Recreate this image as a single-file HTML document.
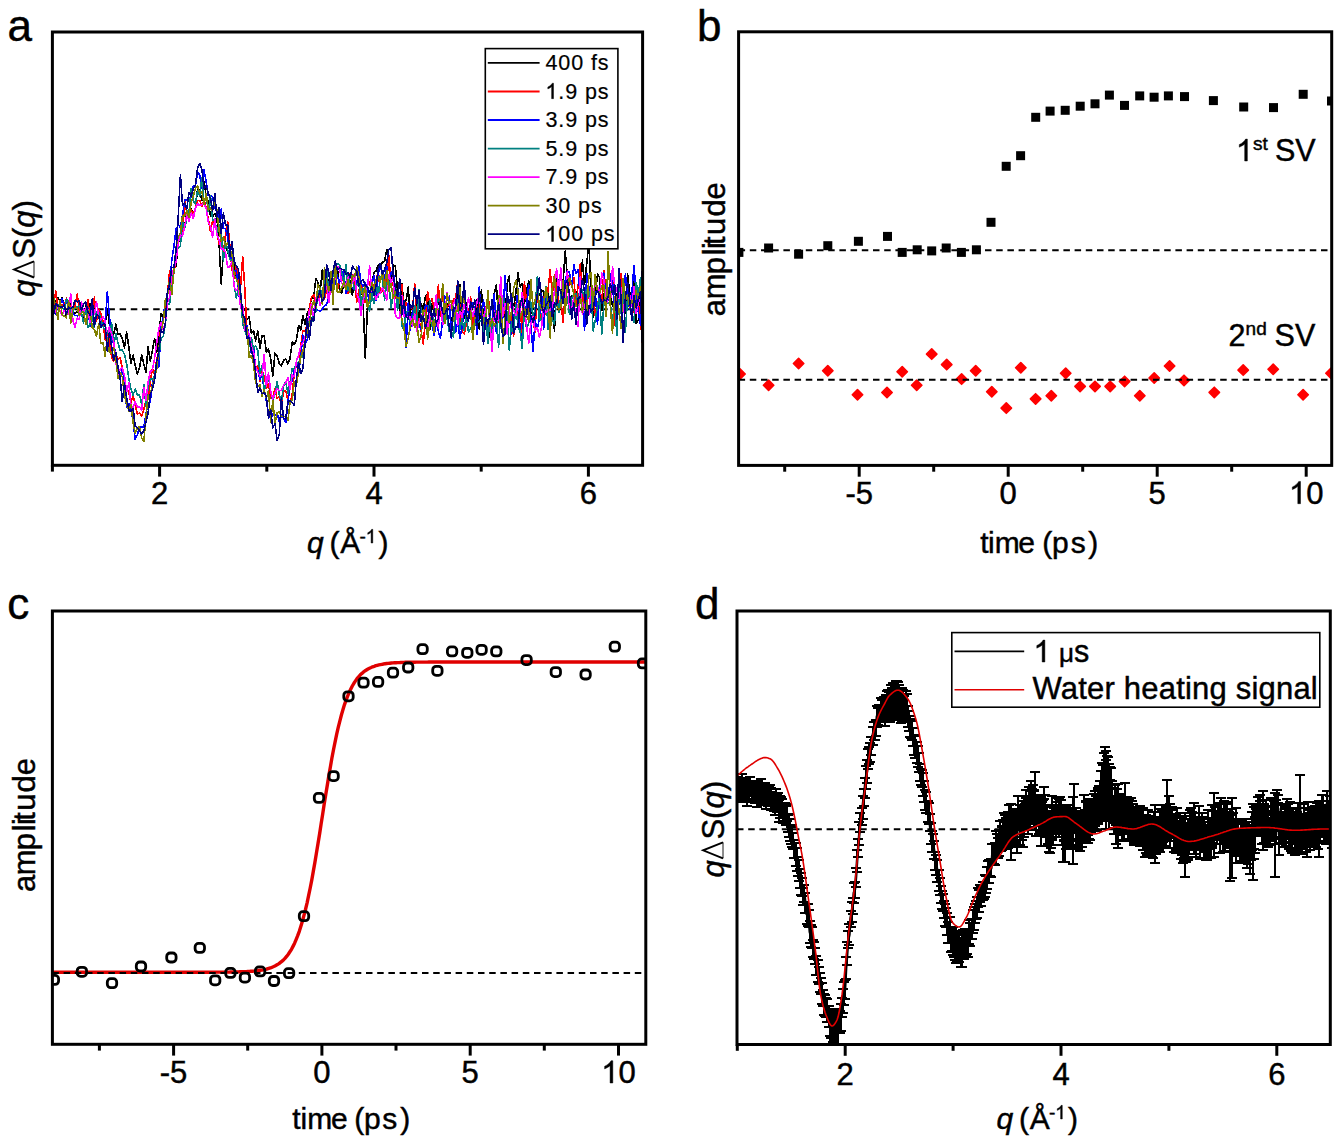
<!DOCTYPE html>
<html><head><meta charset="utf-8"><title>Figure</title>
<style>
html,body{margin:0;padding:0;background:#fff;}
body{width:1343px;height:1146px;overflow:hidden;font-family:"Liberation Sans", sans-serif;}
svg{display:block;}
svg text{stroke:#000;stroke-width:0.45px;}
</style></head><body>
<svg width="1343" height="1146" viewBox="0 0 1343 1146" font-family='"Liberation Sans", sans-serif' fill="#000"><text x="7.4" y="41.2" font-size="44" text-anchor="start" >a</text>
<clipPath id="ca"><rect x="52.4" y="32.0" width="590.2" height="433.3"/></clipPath>
<line x1="52.4" y1="309.3" x2="642.6" y2="309.3" stroke="#000" stroke-width="2.0" stroke-dasharray="6.5 4.7"/>
<g clip-path="url(#ca)">
<polyline points="51.4,303.6 53.5,305.9 55.7,301.8 57.8,297.5 60.0,301.2 62.1,297.6 64.3,306.1 66.4,316.6 68.6,303.7 70.7,303.6 72.9,312.9 75.0,313.0 77.2,312.0 79.3,305.2 81.5,313.1 83.6,319.6 85.8,305.5 87.9,313.3 90.1,303.5 92.2,309.2 94.4,306.0 96.5,319.1 98.7,312.4 100.8,325.1 103.0,325.4 105.1,324.3 107.3,308.4 109.4,325.1 111.6,330.7 113.7,334.1 115.9,324.1 118.0,334.7 120.2,334.0 122.3,338.5 124.5,348.0 126.6,332.0 128.8,346.7 130.9,363.4 133.1,355.1 135.2,365.6 137.4,374.0 139.5,368.0 141.7,355.0 143.8,364.2 146.0,372.3 148.1,346.8 150.3,361.0 152.4,350.2 154.6,338.4 156.7,352.1 158.9,335.9 161.0,313.9 163.2,316.1 165.3,311.8 167.5,294.4 169.6,290.0 171.8,273.7 173.9,269.2 176.1,265.9 178.2,241.6 180.4,240.7 182.5,228.6 184.7,226.9 186.8,211.5 189.0,211.0 191.1,209.0 193.3,212.9 195.4,210.9 197.6,188.2 199.7,189.8 201.9,200.7 204.0,181.9 206.2,195.9 208.3,201.8 210.5,216.5 212.6,216.8 214.8,213.7 216.9,218.5 219.1,244.1 221.2,284.0 223.4,251.0 225.5,241.8 227.7,252.9 229.8,255.4 232.0,261.3 234.1,260.9 236.3,276.5 238.4,281.7 240.6,303.6 242.7,308.9 244.9,308.9 247.0,319.4 249.2,316.8 251.3,333.1 253.5,330.6 255.6,340.7 257.8,330.9 259.9,348.1 262.1,335.9 264.2,336.2 266.4,352.0 268.5,349.1 270.7,358.8 272.8,376.1 275.0,353.1 277.1,356.0 279.3,363.4 281.4,366.0 283.6,360.2 285.7,358.9 287.9,363.9 290.0,358.9 292.2,342.1 294.3,344.6 296.5,339.9 298.6,325.4 300.8,329.9 302.9,315.6 305.1,324.6 307.2,313.3 309.4,308.4 311.5,298.9 313.7,297.5 315.8,278.5 318.0,282.4 320.1,291.8 322.3,269.9 324.4,291.8 326.6,269.6 328.7,288.2 330.9,274.5 333.0,286.7 335.2,280.9 337.3,267.3 339.5,289.7 341.6,293.2 343.8,285.2 345.9,286.9 348.1,288.3 350.2,280.4 352.4,295.0 354.5,280.2 356.7,284.0 358.8,279.3 361.0,281.7 363.1,302.8 365.3,358.0 367.4,308.7 369.6,294.5 371.7,284.0 373.9,272.8 376.0,271.0 378.2,265.0 380.3,268.2 382.5,262.1 384.6,261.3 386.8,249.3 388.9,256.7 391.1,286.9 393.2,264.8 395.4,266.3 397.5,290.4 399.7,310.3 401.8,283.5 404.0,303.4 406.1,300.5 408.3,287.2 410.4,320.1 412.6,310.8 414.7,312.5 416.9,301.4 419.0,318.1 421.2,304.2 423.3,309.6 425.5,295.9 427.6,294.1 429.8,329.5 431.9,303.3 434.1,314.0 436.2,308.9 438.4,302.5 440.5,300.9 442.7,316.1 444.8,302.4 447.0,303.9 449.1,305.8 451.3,321.6 453.4,314.3 455.6,310.0 457.7,296.5 459.9,285.0 462.0,318.1 464.2,318.6 466.3,303.1 468.5,313.1 470.6,316.9 472.8,317.9 474.9,319.5 477.1,300.0 479.2,328.9 481.4,289.4 483.5,320.7 485.7,316.0 487.8,322.2 490.0,337.5 492.1,332.1 494.3,293.4 496.4,285.1 498.6,321.8 500.7,294.1 502.9,308.4 505.0,320.7 507.2,283.2 509.3,275.9 511.5,311.2 513.6,307.8 515.8,293.4 517.9,273.0 520.1,286.9 522.2,283.5 524.4,303.8 526.5,291.4 528.7,281.1 530.8,314.0 533.0,305.3 535.1,312.5 537.3,290.8 539.4,295.7 541.6,290.1 543.7,291.4 545.9,307.6 548.0,291.0 550.2,307.2 552.3,305.4 554.5,330.9 556.6,276.7 558.8,312.6 560.9,297.1 563.1,282.8 565.2,251.0 567.4,277.5 569.5,309.1 571.7,295.4 573.8,297.6 576.0,291.3 578.1,314.4 580.3,295.4 582.4,260.1 584.6,284.6 586.7,263.8 588.9,242.7 591.0,286.9 593.2,316.9 595.3,295.1 597.5,274.3 599.6,277.3 601.8,310.7 603.9,294.0 606.1,291.9 608.2,290.4 610.4,292.4 612.5,305.8 614.7,302.5 616.8,297.9 619.0,277.8 621.1,303.7 623.3,284.1 625.4,313.4 627.6,274.2 629.7,292.8 631.9,294.8 634.0,273.2 636.2,323.7 638.3,319.8 640.5,288.4 642.6,309.2" fill="none" stroke="#000000" stroke-width="1.6" stroke-linejoin="round" shape-rendering="crispEdges"/>
<polyline points="51.4,300.0 53.5,307.4 55.7,290.7 57.8,306.6 60.0,304.9 62.1,305.1 64.3,305.8 66.4,298.3 68.6,301.6 70.7,308.9 72.9,307.7 75.0,306.4 77.2,294.1 79.3,310.4 81.5,316.2 83.6,316.3 85.8,311.8 87.9,299.7 90.1,320.0 92.2,313.4 94.4,297.2 96.5,320.9 98.7,309.1 100.8,313.3 103.0,321.6 105.1,339.9 107.3,331.8 109.4,341.2 111.6,357.3 113.7,361.4 115.9,354.2 118.0,359.1 120.2,357.8 122.3,368.5 124.5,382.8 126.6,388.4 128.8,391.9 130.9,403.4 133.1,394.9 135.2,405.1 137.4,414.1 139.5,413.2 141.7,415.9 143.8,409.2 146.0,400.5 148.1,399.5 150.3,382.0 152.4,368.4 154.6,375.0 156.7,359.4 158.9,350.7 161.0,323.5 163.2,321.0 165.3,306.7 167.5,293.0 169.6,271.1 171.8,274.8 173.9,273.4 176.1,259.1 178.2,241.9 180.4,237.1 182.5,234.2 184.7,199.6 186.8,213.5 189.0,213.3 191.1,209.9 193.3,214.5 195.4,208.1 197.6,200.4 199.7,200.3 201.9,206.3 204.0,199.7 206.2,207.4 208.3,218.9 210.5,231.7 212.6,220.0 214.8,225.0 216.9,231.1 219.1,244.2 221.2,237.9 223.4,253.9 225.5,233.9 227.7,222.0 229.8,244.9 232.0,269.7 234.1,278.5 236.3,266.3 238.4,280.2 240.6,286.2 242.7,257.0 244.9,289.8 247.0,334.8 249.2,339.6 251.3,348.3 253.5,349.2 255.6,368.7 257.8,365.4 259.9,381.7 262.1,371.2 264.2,376.0 266.4,388.0 268.5,384.2 270.7,397.8 272.8,396.5 275.0,389.1 277.1,398.5 279.3,396.0 281.4,405.4 283.6,391.5 285.7,390.7 287.9,400.2 290.0,403.1 292.2,394.7 294.3,372.6 296.5,366.0 298.6,367.8 300.8,346.0 302.9,330.8 305.1,330.7 307.2,325.2 309.4,308.6 311.5,297.0 313.7,294.4 315.8,307.9 318.0,294.4 320.1,297.3 322.3,298.2 324.4,299.5 326.6,289.8 328.7,294.4 330.9,281.2 333.0,283.3 335.2,275.9 337.3,291.3 339.5,280.9 341.6,275.9 343.8,282.1 345.9,285.8 348.1,293.1 350.2,273.0 352.4,275.3 354.5,278.9 356.7,302.1 358.8,290.9 361.0,283.7 363.1,290.8 365.3,302.6 367.4,283.0 369.6,281.7 371.7,294.7 373.9,284.7 376.0,282.8 378.2,269.4 380.3,293.2 382.5,291.3 384.6,279.9 386.8,282.3 388.9,255.3 391.1,287.8 393.2,282.0 395.4,294.6 397.5,304.2 399.7,297.7 401.8,284.5 404.0,313.4 406.1,302.4 408.3,308.7 410.4,305.5 412.6,309.3 414.7,283.3 416.9,331.7 419.0,319.1 421.2,331.7 423.3,344.2 425.5,317.1 427.6,291.5 429.8,303.9 431.9,298.9 434.1,308.0 436.2,315.1 438.4,284.9 440.5,316.6 442.7,289.5 444.8,313.8 447.0,307.2 449.1,303.6 451.3,306.4 453.4,299.4 455.6,298.0 457.7,282.5 459.9,305.6 462.0,332.0 464.2,333.8 466.3,324.5 468.5,315.9 470.6,296.5 472.8,327.5 474.9,306.7 477.1,307.3 479.2,304.9 481.4,311.4 483.5,304.5 485.7,310.5 487.8,296.6 490.0,307.6 492.1,347.1 494.3,312.9 496.4,310.7 498.6,322.2 500.7,324.9 502.9,297.8 505.0,311.1 507.2,327.7 509.3,317.7 511.5,315.2 513.6,336.4 515.8,302.4 517.9,313.6 520.1,304.3 522.2,334.7 524.4,282.2 526.5,301.6 528.7,303.6 530.8,321.6 533.0,320.4 535.1,332.1 537.3,285.6 539.4,320.9 541.6,303.8 543.7,297.0 545.9,314.6 548.0,290.0 550.2,269.6 552.3,294.2 554.5,274.8 556.6,287.3 558.8,303.1 560.9,302.0 563.1,322.3 565.2,294.0 567.4,272.9 569.5,285.4 571.7,282.7 573.8,277.7 576.0,303.9 578.1,286.1 580.3,264.1 582.4,306.9 584.6,293.5 586.7,301.0 588.9,296.9 591.0,305.6 593.2,295.9 595.3,315.5 597.5,302.1 599.6,301.4 601.8,301.5 603.9,270.7 606.1,292.1 608.2,291.1 610.4,299.7 612.5,275.0 614.7,325.7 616.8,301.8 619.0,281.2 621.1,273.9 623.3,298.0 625.4,301.7 627.6,291.6 629.7,305.1 631.9,293.0 634.0,312.7 636.2,291.6 638.3,303.0 640.5,319.9 642.6,346.4" fill="none" stroke="#ff0000" stroke-width="1.6" stroke-linejoin="round" shape-rendering="crispEdges"/>
<polyline points="51.4,307.4 53.5,304.7 55.7,314.1 57.8,305.2 60.0,304.5 62.1,298.4 64.3,307.0 66.4,300.9 68.6,306.9 70.7,316.9 72.9,312.9 75.0,315.3 77.2,315.8 79.3,315.1 81.5,314.8 83.6,314.1 85.8,322.3 87.9,308.3 90.1,326.2 92.2,316.3 94.4,310.8 96.5,314.0 98.7,314.9 100.8,324.6 103.0,322.6 105.1,325.5 107.3,292.0 109.4,315.3 111.6,343.5 113.7,339.2 115.9,359.5 118.0,373.7 120.2,377.4 122.3,369.6 124.5,380.9 126.6,407.4 128.8,403.8 130.9,408.0 133.1,422.5 135.2,439.4 137.4,434.7 139.5,426.6 141.7,427.2 143.8,427.2 146.0,413.5 148.1,402.5 150.3,401.8 152.4,383.1 154.6,376.7 156.7,364.3 158.9,367.0 161.0,327.6 163.2,317.4 165.3,301.8 167.5,292.7 169.6,284.4 171.8,260.4 173.9,246.2 176.1,229.1 178.2,225.0 180.4,227.3 182.5,215.3 184.7,200.2 186.8,199.8 189.0,198.2 191.1,197.7 193.3,186.1 195.4,186.2 197.6,171.6 199.7,175.4 201.9,188.5 204.0,170.0 206.2,181.9 208.3,195.6 210.5,195.6 212.6,197.1 214.8,207.5 216.9,212.8 219.1,217.4 221.2,209.1 223.4,228.3 225.5,228.9 227.7,238.0 229.8,251.2 232.0,262.2 234.1,272.4 236.3,270.3 238.4,291.5 240.6,304.6 242.7,315.0 244.9,327.5 247.0,325.8 249.2,335.6 251.3,353.4 253.5,346.2 255.6,368.0 257.8,370.5 259.9,379.5 262.1,375.9 264.2,389.0 266.4,401.5 268.5,413.9 270.7,419.1 272.8,414.0 275.0,415.8 277.1,412.5 279.3,422.3 281.4,415.2 283.6,418.3 285.7,422.7 287.9,403.1 290.0,384.3 292.2,381.4 294.3,369.0 296.5,362.9 298.6,374.0 300.8,357.0 302.9,335.0 305.1,343.4 307.2,339.8 309.4,320.2 311.5,311.9 313.7,309.7 315.8,310.6 318.0,310.2 320.1,311.6 322.3,309.0 324.4,306.0 326.6,304.6 328.7,296.2 330.9,275.7 333.0,283.7 335.2,283.9 337.3,275.2 339.5,283.2 341.6,273.1 343.8,271.5 345.9,293.5 348.1,287.9 350.2,283.6 352.4,288.5 354.5,289.5 356.7,285.3 358.8,266.1 361.0,283.1 363.1,286.1 365.3,282.3 367.4,293.0 369.6,302.2 371.7,285.7 373.9,275.3 376.0,300.8 378.2,273.8 380.3,264.2 382.5,277.4 384.6,278.3 386.8,266.0 388.9,283.7 391.1,272.6 393.2,271.0 395.4,289.2 397.5,303.6 399.7,293.1 401.8,308.6 404.0,307.4 406.1,347.1 408.3,303.2 410.4,330.0 412.6,311.0 414.7,309.8 416.9,321.4 419.0,324.1 421.2,329.7 423.3,317.1 425.5,304.8 427.6,306.5 429.8,322.0 431.9,323.7 434.1,335.7 436.2,322.5 438.4,331.7 440.5,338.2 442.7,319.2 444.8,296.0 447.0,300.0 449.1,296.1 451.3,338.1 453.4,303.5 455.6,332.3 457.7,322.7 459.9,338.2 462.0,327.6 464.2,311.3 466.3,309.3 468.5,312.8 470.6,313.7 472.8,303.2 474.9,310.3 477.1,334.3 479.2,286.9 481.4,316.1 483.5,300.2 485.7,317.3 487.8,327.9 490.0,315.7 492.1,328.5 494.3,293.9 496.4,333.6 498.6,307.8 500.7,325.2 502.9,317.7 505.0,275.3 507.2,301.5 509.3,315.2 511.5,334.4 513.6,314.6 515.8,313.7 517.9,288.1 520.1,331.0 522.2,336.7 524.4,309.7 526.5,306.0 528.7,284.8 530.8,323.3 533.0,351.4 535.1,321.0 537.3,329.3 539.4,317.9 541.6,293.6 543.7,328.8 545.9,287.4 548.0,301.3 550.2,306.2 552.3,312.8 554.5,302.9 556.6,300.7 558.8,281.3 560.9,272.0 563.1,292.8 565.2,280.4 567.4,271.2 569.5,272.4 571.7,285.8 573.8,264.8 576.0,273.8 578.1,270.0 580.3,300.0 582.4,304.1 584.6,330.4 586.7,273.5 588.9,286.8 591.0,312.7 593.2,293.8 595.3,291.5 597.5,324.4 599.6,290.1 601.8,276.1 603.9,273.2 606.1,300.5 608.2,300.6 610.4,273.9 612.5,281.6 614.7,308.0 616.8,310.1 619.0,291.0 621.1,312.6 623.3,312.1 625.4,273.3 627.6,297.3 629.7,308.8 631.9,291.8 634.0,265.2 636.2,295.2 638.3,311.7 640.5,325.0 642.6,262.8" fill="none" stroke="#0000ff" stroke-width="1.6" stroke-linejoin="round" shape-rendering="crispEdges"/>
<polyline points="51.4,291.7 53.5,314.5 55.7,305.0 57.8,304.7 60.0,306.1 62.1,306.4 64.3,311.3 66.4,299.1 68.6,302.2 70.7,311.9 72.9,311.3 75.0,307.9 77.2,307.1 79.3,306.0 81.5,312.7 83.6,323.0 85.8,307.3 87.9,327.8 90.1,324.1 92.2,316.0 94.4,327.0 96.5,312.2 98.7,312.3 100.8,317.9 103.0,326.8 105.1,329.7 107.3,330.5 109.4,337.3 111.6,322.8 113.7,345.3 115.9,333.8 118.0,343.4 120.2,350.2 122.3,350.2 124.5,354.5 126.6,363.7 128.8,378.1 130.9,389.0 133.1,395.1 135.2,389.2 137.4,394.7 139.5,394.7 141.7,404.6 143.8,384.3 146.0,406.0 148.1,387.3 150.3,378.6 152.4,379.3 154.6,375.6 156.7,361.0 158.9,356.6 161.0,339.1 163.2,336.3 165.3,325.1 167.5,303.5 169.6,304.1 171.8,283.3 173.9,271.8 176.1,253.3 178.2,248.0 180.4,246.3 182.5,221.0 184.7,227.8 186.8,218.8 189.0,212.6 191.1,188.6 193.3,201.0 195.4,204.0 197.6,190.6 199.7,195.9 201.9,177.6 204.0,203.4 206.2,196.1 208.3,211.7 210.5,195.7 212.6,220.6 214.8,218.8 216.9,232.5 219.1,224.9 221.2,233.0 223.4,260.8 225.5,242.7 227.7,249.6 229.8,259.3 232.0,260.5 234.1,285.4 236.3,297.9 238.4,288.7 240.6,291.2 242.7,323.6 244.9,331.3 247.0,336.7 249.2,346.4 251.3,337.3 253.5,349.2 255.6,345.7 257.8,350.5 259.9,373.9 262.1,365.3 264.2,392.4 266.4,378.8 268.5,376.8 270.7,391.3 272.8,401.7 275.0,393.6 277.1,381.8 279.3,394.9 281.4,402.0 283.6,385.7 285.7,381.5 287.9,393.1 290.0,382.6 292.2,368.6 294.3,370.0 296.5,362.0 298.6,364.2 300.8,356.0 302.9,356.9 305.1,345.0 307.2,318.3 309.4,326.1 311.5,322.7 313.7,312.4 315.8,311.2 318.0,294.2 320.1,287.2 322.3,298.8 324.4,279.9 326.6,268.5 328.7,291.2 330.9,274.8 333.0,275.9 335.2,265.0 337.3,264.0 339.5,264.6 341.6,272.2 343.8,281.9 345.9,264.4 348.1,290.3 350.2,275.0 352.4,275.9 354.5,290.4 356.7,286.4 358.8,278.1 361.0,308.5 363.1,288.2 365.3,298.9 367.4,299.7 369.6,311.3 371.7,293.5 373.9,303.5 376.0,282.6 378.2,297.5 380.3,276.5 382.5,278.3 384.6,300.1 386.8,282.9 388.9,281.9 391.1,308.5 393.2,291.5 395.4,284.1 397.5,310.0 399.7,294.2 401.8,325.1 404.0,330.6 406.1,311.3 408.3,311.6 410.4,322.0 412.6,319.7 414.7,306.0 416.9,326.6 419.0,290.1 421.2,312.1 423.3,312.4 425.5,314.1 427.6,322.2 429.8,300.7 431.9,326.2 434.1,315.4 436.2,308.8 438.4,298.7 440.5,301.1 442.7,322.5 444.8,303.6 447.0,317.6 449.1,331.2 451.3,330.4 453.4,337.5 455.6,311.0 457.7,299.6 459.9,329.2 462.0,319.0 464.2,330.8 466.3,315.2 468.5,332.6 470.6,328.1 472.8,326.8 474.9,324.3 477.1,323.2 479.2,321.2 481.4,321.3 483.5,332.6 485.7,310.7 487.8,343.6 490.0,316.5 492.1,332.4 494.3,316.3 496.4,313.8 498.6,347.3 500.7,312.4 502.9,298.0 505.0,306.5 507.2,312.8 509.3,350.4 511.5,321.9 513.6,333.6 515.8,305.1 517.9,326.1 520.1,331.3 522.2,348.5 524.4,310.1 526.5,329.2 528.7,323.6 530.8,301.9 533.0,315.8 535.1,310.3 537.3,276.8 539.4,320.5 541.6,318.3 543.7,302.0 545.9,287.0 548.0,329.7 550.2,309.1 552.3,319.3 554.5,324.0 556.6,292.5 558.8,312.6 560.9,294.8 563.1,296.7 565.2,295.6 567.4,296.4 569.5,314.2 571.7,298.7 573.8,294.7 576.0,293.4 578.1,303.9 580.3,284.4 582.4,291.0 584.6,298.3 586.7,289.8 588.9,296.9 591.0,288.6 593.2,331.1 595.3,319.9 597.5,305.4 599.6,297.1 601.8,334.2 603.9,303.5 606.1,296.8 608.2,303.6 610.4,304.1 612.5,322.8 614.7,299.8 616.8,335.3 619.0,286.6 621.1,313.0 623.3,285.3 625.4,332.0 627.6,296.6 629.7,301.0 631.9,316.9 634.0,322.0 636.2,282.5 638.3,294.8 640.5,277.4 642.6,302.7" fill="none" stroke="#008080" stroke-width="1.6" stroke-linejoin="round" shape-rendering="crispEdges"/>
<polyline points="51.4,296.0 53.5,313.0 55.7,312.5 57.8,305.4 60.0,310.5 62.1,315.6 64.3,309.9 66.4,311.8 68.6,314.0 70.7,293.8 72.9,320.5 75.0,327.1 77.2,318.1 79.3,319.2 81.5,301.9 83.6,312.3 85.8,307.8 87.9,310.0 90.1,322.0 92.2,309.1 94.4,314.5 96.5,301.8 98.7,316.1 100.8,319.9 103.0,316.9 105.1,320.7 107.3,344.9 109.4,326.7 111.6,333.6 113.7,341.5 115.9,362.8 118.0,376.0 120.2,369.4 122.3,367.9 124.5,375.8 126.6,392.5 128.8,382.7 130.9,404.6 133.1,408.2 135.2,401.5 137.4,407.4 139.5,406.9 141.7,410.4 143.8,387.6 146.0,400.1 148.1,381.7 150.3,371.5 152.4,370.0 154.6,358.2 156.7,342.9 158.9,328.3 161.0,322.8 163.2,330.0 165.3,322.9 167.5,302.7 169.6,296.9 171.8,274.1 173.9,267.9 176.1,261.5 178.2,242.6 180.4,235.2 182.5,235.9 184.7,226.1 186.8,215.0 189.0,221.3 191.1,212.2 193.3,218.6 195.4,208.1 197.6,203.5 199.7,205.7 201.9,204.4 204.0,203.2 206.2,208.7 208.3,221.9 210.5,226.4 212.6,236.9 214.8,219.2 216.9,234.6 219.1,239.6 221.2,249.1 223.4,248.8 225.5,252.6 227.7,267.0 229.8,266.9 232.0,261.5 234.1,286.7 236.3,290.7 238.4,287.0 240.6,307.8 242.7,305.7 244.9,330.0 247.0,329.4 249.2,334.2 251.3,346.4 253.5,351.7 255.6,366.4 257.8,372.1 259.9,375.9 262.1,375.4 264.2,354.3 266.4,386.2 268.5,372.7 270.7,391.2 272.8,399.1 275.0,393.3 277.1,388.9 279.3,390.7 281.4,390.2 283.6,385.2 285.7,382.9 287.9,377.4 290.0,389.6 292.2,374.7 294.3,376.5 296.5,360.3 298.6,355.3 300.8,345.6 302.9,342.8 305.1,337.4 307.2,324.6 309.4,310.6 311.5,303.9 313.7,318.0 315.8,298.3 318.0,294.7 320.1,305.4 322.3,299.5 324.4,292.5 326.6,282.7 328.7,302.6 330.9,285.3 333.0,285.1 335.2,278.0 337.3,267.1 339.5,267.4 341.6,282.7 343.8,286.1 345.9,284.2 348.1,277.5 350.2,274.8 352.4,282.9 354.5,273.7 356.7,293.8 358.8,298.7 361.0,315.1 363.1,301.0 365.3,289.9 367.4,288.4 369.6,266.0 371.7,291.0 373.9,292.0 376.0,299.6 378.2,294.3 380.3,293.0 382.5,288.1 384.6,291.8 386.8,300.0 388.9,274.2 391.1,283.2 393.2,275.7 395.4,315.2 397.5,318.5 399.7,318.0 401.8,295.8 404.0,316.4 406.1,314.4 408.3,319.6 410.4,316.5 412.6,326.0 414.7,313.9 416.9,330.9 419.0,322.5 421.2,314.8 423.3,317.1 425.5,312.2 427.6,329.3 429.8,313.6 431.9,321.0 434.1,310.8 436.2,294.9 438.4,328.0 440.5,300.3 442.7,324.7 444.8,321.3 447.0,292.6 449.1,302.8 451.3,308.9 453.4,304.4 455.6,298.7 457.7,324.8 459.9,309.7 462.0,317.2 464.2,304.3 466.3,313.7 468.5,297.8 470.6,307.7 472.8,316.4 474.9,309.0 477.1,302.4 479.2,294.2 481.4,313.5 483.5,317.2 485.7,309.5 487.8,303.0 490.0,322.9 492.1,351.8 494.3,311.0 496.4,320.4 498.6,320.7 500.7,276.5 502.9,316.0 505.0,303.2 507.2,334.1 509.3,309.4 511.5,301.4 513.6,309.8 515.8,315.5 517.9,304.5 520.1,312.2 522.2,292.3 524.4,309.5 526.5,324.8 528.7,343.1 530.8,323.7 533.0,316.9 535.1,330.6 537.3,327.6 539.4,336.9 541.6,327.1 543.7,307.6 545.9,312.6 548.0,310.0 550.2,310.3 552.3,307.1 554.5,290.3 556.6,268.6 558.8,290.4 560.9,268.1 563.1,300.4 565.2,298.5 567.4,270.8 569.5,307.8 571.7,310.1 573.8,297.4 576.0,322.7 578.1,326.2 580.3,277.0 582.4,314.0 584.6,305.2 586.7,305.6 588.9,314.7 591.0,288.0 593.2,290.0 595.3,285.7 597.5,286.2 599.6,296.2 601.8,273.1 603.9,279.3 606.1,305.8 608.2,295.3 610.4,303.4 612.5,266.5 614.7,285.2 616.8,289.3 619.0,298.8 621.1,288.1 623.3,312.4 625.4,295.3 627.6,295.8 629.7,295.3 631.9,306.5 634.0,287.1 636.2,313.6 638.3,303.1 640.5,298.4 642.6,296.9" fill="none" stroke="#ff00ff" stroke-width="1.6" stroke-linejoin="round" shape-rendering="crispEdges"/>
<polyline points="51.4,303.7 53.5,297.7 55.7,305.8 57.8,319.6 60.0,300.6 62.1,314.5 64.3,316.3 66.4,317.7 68.6,300.9 70.7,322.8 72.9,309.2 75.0,307.2 77.2,308.3 79.3,315.6 81.5,312.5 83.6,312.0 85.8,324.3 87.9,311.0 90.1,310.8 92.2,327.2 94.4,329.6 96.5,336.0 98.7,323.5 100.8,343.4 103.0,342.7 105.1,356.2 107.3,337.5 109.4,352.5 111.6,353.0 113.7,347.7 115.9,359.0 118.0,378.3 120.2,372.5 122.3,377.2 124.5,395.7 126.6,403.6 128.8,411.0 130.9,404.6 133.1,422.6 135.2,433.0 137.4,428.1 139.5,426.7 141.7,438.1 143.8,441.7 146.0,416.1 148.1,396.3 150.3,394.5 152.4,385.3 154.6,377.8 156.7,369.3 158.9,349.2 161.0,330.7 163.2,322.6 165.3,300.2 167.5,295.6 169.6,279.9 171.8,294.4 173.9,269.7 176.1,247.2 178.2,237.0 180.4,232.9 182.5,215.9 184.7,216.1 186.8,210.5 189.0,217.8 191.1,202.9 193.3,196.0 195.4,188.3 197.6,186.2 199.7,192.8 201.9,191.9 204.0,204.3 206.2,193.4 208.3,209.9 210.5,208.3 212.6,211.0 214.8,200.1 216.9,210.4 219.1,230.9 221.2,240.9 223.4,236.6 225.5,246.0 227.7,242.5 229.8,249.1 232.0,254.1 234.1,274.9 236.3,279.2 238.4,285.6 240.6,296.9 242.7,315.3 244.9,325.2 247.0,327.4 249.2,357.6 251.3,355.8 253.5,363.1 255.6,382.9 257.8,386.7 259.9,384.8 262.1,396.1 264.2,389.6 266.4,398.3 268.5,390.6 270.7,422.1 272.8,400.6 275.0,423.2 277.1,412.8 279.3,411.9 281.4,416.4 283.6,416.9 285.7,415.9 287.9,420.5 290.0,403.1 292.2,400.3 294.3,381.7 296.5,384.3 298.6,371.3 300.8,357.2 302.9,350.8 305.1,340.5 307.2,331.9 309.4,324.3 311.5,309.1 313.7,300.8 315.8,307.5 318.0,284.2 320.1,289.6 322.3,304.3 324.4,268.2 326.6,282.3 328.7,291.6 330.9,271.4 333.0,303.9 335.2,261.1 337.3,292.0 339.5,292.2 341.6,288.1 343.8,282.2 345.9,289.6 348.1,279.7 350.2,292.2 352.4,275.6 354.5,277.2 356.7,267.0 358.8,276.2 361.0,290.1 363.1,296.5 365.3,285.1 367.4,307.6 369.6,300.8 371.7,282.4 373.9,291.5 376.0,279.5 378.2,277.0 380.3,281.9 382.5,272.0 384.6,288.2 386.8,270.6 388.9,291.1 391.1,283.8 393.2,298.8 395.4,289.8 397.5,298.5 399.7,297.8 401.8,318.9 404.0,327.8 406.1,346.6 408.3,337.8 410.4,324.9 412.6,319.2 414.7,327.5 416.9,322.0 419.0,342.7 421.2,335.4 423.3,310.0 425.5,311.3 427.6,339.1 429.8,323.1 431.9,314.1 434.1,332.6 436.2,309.2 438.4,309.5 440.5,305.9 442.7,284.2 444.8,323.4 447.0,294.1 449.1,303.0 451.3,300.6 453.4,321.3 455.6,310.2 457.7,311.4 459.9,287.4 462.0,309.9 464.2,290.1 466.3,315.4 468.5,316.1 470.6,310.3 472.8,339.5 474.9,317.3 477.1,317.9 479.2,311.0 481.4,306.0 483.5,323.0 485.7,325.3 487.8,290.7 490.0,325.9 492.1,318.7 494.3,326.3 496.4,320.0 498.6,295.7 500.7,297.8 502.9,343.3 505.0,320.6 507.2,296.0 509.3,322.5 511.5,311.5 513.6,288.5 515.8,280.7 517.9,290.0 520.1,317.4 522.2,311.8 524.4,308.2 526.5,316.0 528.7,320.8 530.8,279.5 533.0,307.4 535.1,299.4 537.3,293.1 539.4,303.5 541.6,309.6 543.7,306.7 545.9,287.2 548.0,300.8 550.2,338.0 552.3,287.8 554.5,276.1 556.6,305.9 558.8,310.0 560.9,306.9 563.1,280.7 565.2,313.3 567.4,283.9 569.5,277.5 571.7,285.5 573.8,293.3 576.0,306.7 578.1,305.7 580.3,295.9 582.4,312.1 584.6,299.1 586.7,312.9 588.9,275.7 591.0,272.8 593.2,310.8 595.3,274.5 597.5,291.3 599.6,293.5 601.8,286.1 603.9,285.9 606.1,316.1 608.2,251.6 610.4,308.7 612.5,333.0 614.7,296.6 616.8,296.9 619.0,309.9 621.1,328.3 623.3,278.5 625.4,299.4 627.6,294.7 629.7,306.9 631.9,300.1 634.0,308.4 636.2,290.7 638.3,298.6 640.5,287.0 642.6,287.3" fill="none" stroke="#808000" stroke-width="1.6" stroke-linejoin="round" shape-rendering="crispEdges"/>
<polyline points="51.4,304.4 53.5,314.5 55.7,303.5 57.8,306.0 60.0,306.8 62.1,307.5 64.3,305.3 66.4,314.3 68.6,307.0 70.7,308.7 72.9,307.3 75.0,300.3 77.2,301.9 79.3,300.7 81.5,310.5 83.6,304.1 85.8,302.1 87.9,312.4 90.1,315.2 92.2,298.9 94.4,325.8 96.5,314.8 98.7,315.7 100.8,327.5 103.0,324.2 105.1,324.2 107.3,350.8 109.4,332.4 111.6,346.3 113.7,360.3 115.9,352.7 118.0,367.3 120.2,378.7 122.3,401.6 124.5,383.9 126.6,397.5 128.8,409.9 130.9,411.8 133.1,408.2 135.2,426.3 137.4,427.7 139.5,430.5 141.7,434.2 143.8,431.0 146.0,421.9 148.1,413.4 150.3,393.6 152.4,389.9 154.6,379.6 156.7,361.5 158.9,351.3 161.0,329.8 163.2,332.9 165.3,323.2 167.5,290.5 169.6,283.9 171.8,267.3 173.9,267.3 176.1,250.3 178.2,217.3 180.4,175.0 182.5,205.0 184.7,202.8 186.8,208.9 189.0,192.2 191.1,196.4 193.3,188.9 195.4,184.8 197.6,168.0 199.7,163.3 201.9,169.6 204.0,188.6 206.2,185.8 208.3,193.7 210.5,198.4 212.6,211.0 214.8,193.6 216.9,216.9 219.1,207.7 221.2,233.3 223.4,212.9 225.5,224.8 227.7,224.7 229.8,256.6 232.0,241.3 234.1,261.1 236.3,266.3 238.4,268.8 240.6,293.5 242.7,314.1 244.9,318.8 247.0,338.2 249.2,338.1 251.3,350.8 253.5,357.5 255.6,372.4 257.8,392.7 259.9,388.2 262.1,393.6 264.2,392.9 266.4,396.5 268.5,417.9 270.7,409.7 272.8,428.0 275.0,423.8 277.1,440.0 279.3,434.6 281.4,397.8 283.6,418.0 285.7,419.0 287.9,401.7 290.0,400.5 292.2,402.8 294.3,405.4 296.5,377.3 298.6,363.0 300.8,373.6 302.9,368.5 305.1,343.6 307.2,318.6 309.4,339.0 311.5,318.0 313.7,320.9 315.8,305.1 318.0,296.8 320.1,291.0 322.3,301.7 324.4,297.2 326.6,265.1 328.7,271.6 330.9,290.6 333.0,271.2 335.2,261.1 337.3,270.1 339.5,268.1 341.6,269.1 343.8,269.7 345.9,274.2 348.1,273.0 350.2,277.5 352.4,266.2 354.5,269.1 356.7,271.2 358.8,285.8 361.0,281.4 363.1,279.2 365.3,286.2 367.4,286.4 369.6,293.4 371.7,287.2 373.9,295.1 376.0,286.1 378.2,269.2 380.3,263.3 382.5,274.5 384.6,269.5 386.8,262.7 388.9,249.2 391.1,248.1 393.2,276.2 395.4,287.4 397.5,296.3 399.7,278.9 401.8,314.9 404.0,301.0 406.1,316.7 408.3,319.2 410.4,304.4 412.6,307.7 414.7,288.0 416.9,303.5 419.0,290.8 421.2,321.7 423.3,316.2 425.5,327.9 427.6,319.9 429.8,305.9 431.9,319.6 434.1,309.1 436.2,322.9 438.4,318.6 440.5,300.0 442.7,313.6 444.8,314.1 447.0,308.9 449.1,325.7 451.3,337.1 453.4,307.8 455.6,307.9 457.7,280.9 459.9,310.6 462.0,306.1 464.2,281.4 466.3,316.4 468.5,320.9 470.6,302.3 472.8,308.0 474.9,300.1 477.1,325.6 479.2,293.2 481.4,311.2 483.5,344.6 485.7,317.3 487.8,323.6 490.0,314.9 492.1,300.0 494.3,316.9 496.4,323.5 498.6,302.5 500.7,322.8 502.9,336.4 505.0,333.9 507.2,294.2 509.3,303.3 511.5,293.5 513.6,333.7 515.8,326.6 517.9,327.7 520.1,303.3 522.2,298.3 524.4,316.6 526.5,316.2 528.7,300.7 530.8,315.1 533.0,322.0 535.1,314.8 537.3,294.6 539.4,277.4 541.6,305.8 543.7,312.1 545.9,305.2 548.0,301.6 550.2,296.0 552.3,316.5 554.5,303.0 556.6,305.0 558.8,287.0 560.9,291.7 563.1,303.4 565.2,284.1 567.4,279.5 569.5,294.2 571.7,318.9 573.8,303.1 576.0,324.1 578.1,299.0 580.3,296.6 582.4,279.2 584.6,292.3 586.7,324.5 588.9,305.6 591.0,311.0 593.2,309.1 595.3,295.7 597.5,291.0 599.6,295.1 601.8,303.4 603.9,299.7 606.1,300.8 608.2,296.6 610.4,283.4 612.5,294.0 614.7,284.9 616.8,318.8 619.0,268.6 621.1,299.9 623.3,342.5 625.4,296.6 627.6,282.4 629.7,299.7 631.9,320.2 634.0,295.6 636.2,307.9 638.3,299.3 640.5,291.6 642.6,350.0" fill="none" stroke="#000080" stroke-width="1.6" stroke-linejoin="round" shape-rendering="crispEdges"/>
</g>
<rect x="52.4" y="32" width="590.2" height="433.3" fill="none" stroke="#000" stroke-width="3.0" stroke-linejoin="miter"/>
<line x1="159.6" y1="465.3" x2="159.6" y2="476.6" stroke="#000" stroke-width="3.0"/>
<text x="159.6" y="503.7" font-size="31" text-anchor="middle" >2</text>
<line x1="374" y1="465.3" x2="374" y2="476.6" stroke="#000" stroke-width="3.0"/>
<text x="374" y="503.7" font-size="31" text-anchor="middle" >4</text>
<line x1="588.4" y1="465.3" x2="588.4" y2="476.6" stroke="#000" stroke-width="3.0"/>
<text x="588.4" y="503.7" font-size="31" text-anchor="middle" >6</text>
<line x1="52.4" y1="465.3" x2="52.4" y2="471.6" stroke="#000" stroke-width="3.0"/>
<line x1="266.8" y1="465.3" x2="266.8" y2="471.6" stroke="#000" stroke-width="3.0"/>
<line x1="481.2" y1="465.3" x2="481.2" y2="471.6" stroke="#000" stroke-width="3.0"/>
<rect x="485.3" y="48.6" width="132.6" height="200.2" fill="#fff" stroke="#000" stroke-width="1.6"/>
<line x1="487.8" y1="62.9" x2="539.6" y2="62.9" stroke="#000000" stroke-width="1.8"/>
<text x="545.5" y="70.1" font-size="21.5" text-anchor="start" letter-spacing="0.9" style="stroke-width:0.2px">400 fs</text>
<line x1="487.8" y1="91.5" x2="539.6" y2="91.5" stroke="#ff0000" stroke-width="1.8"/>
<text x="545.5" y="98.7" font-size="21.5" text-anchor="start" letter-spacing="0.9" style="stroke-width:0.2px"><tspan style="fill:none;stroke:none">1</tspan>.9 ps</text>
<path transform="translate(545.50,98.65) scale(0.01050,-0.01050)" d="M763 0H583V1147Q518 1085 412 1023T222 930V1104Q373 1175 486 1276T646 1472H763Z" fill="#000" stroke="#000" stroke-width="42.9"/>
<line x1="487.8" y1="120" x2="539.6" y2="120" stroke="#0000ff" stroke-width="1.8"/>
<text x="545.5" y="127.2" font-size="21.5" text-anchor="start" letter-spacing="0.9" style="stroke-width:0.2px">3.9 ps</text>
<line x1="487.8" y1="148.6" x2="539.6" y2="148.6" stroke="#008080" stroke-width="1.8"/>
<text x="545.5" y="155.8" font-size="21.5" text-anchor="start" letter-spacing="0.9" style="stroke-width:0.2px">5.9 ps</text>
<line x1="487.8" y1="177.1" x2="539.6" y2="177.1" stroke="#ff00ff" stroke-width="1.8"/>
<text x="545.5" y="184.3" font-size="21.5" text-anchor="start" letter-spacing="0.9" style="stroke-width:0.2px">7.9 ps</text>
<line x1="487.8" y1="205.7" x2="539.6" y2="205.7" stroke="#808000" stroke-width="1.8"/>
<text x="545.5" y="212.8" font-size="21.5" text-anchor="start" letter-spacing="0.9" style="stroke-width:0.2px">30 ps</text>
<line x1="487.8" y1="234.2" x2="539.6" y2="234.2" stroke="#000080" stroke-width="1.8"/>
<text x="545.5" y="241.4" font-size="21.5" text-anchor="start" letter-spacing="0.9" style="stroke-width:0.2px"><tspan style="fill:none;stroke:none">1</tspan>00 ps</text>
<path transform="translate(545.50,241.40) scale(0.01050,-0.01050)" d="M763 0H583V1147Q518 1085 412 1023T222 930V1104Q373 1175 486 1276T646 1472H763Z" fill="#000" stroke="#000" stroke-width="42.9"/>
<text x="307.10" y="553" font-size="30" font-style="italic">q</text>
<text x="329.50 340.16" y="553" font-size="30">(Å</text>
<text x="359.58" y="543" font-size="19">-</text>
<path transform="translate(365.70,543.00) scale(0.00928,-0.00928)" d="M763 0H583V1147Q518 1085 412 1023T222 930V1104Q373 1175 486 1276T646 1472H763Z" fill="#000" stroke="#000" stroke-width="48.5"/>
<text x="378.50" y="553" font-size="30">)</text>
<text transform="translate(34.6,248.4) rotate(-90)" font-size="31" text-anchor="middle"><tspan font-style="italic">q</tspan><tspan style="fill:none;stroke:none">Δ</tspan>S(<tspan font-style="italic">q</tspan>)</text>
<path d="M34 261.4L14.1 269.4L34 277.5" fill="none" stroke="#000" stroke-width="1.9" stroke-linejoin="miter"/>
<path d="M34 261.4V277.5" stroke="#000" stroke-width="0.9"/>
<text x="696.9" y="41.2" font-size="44" text-anchor="start" >b</text>
<clipPath id="cb"><rect x="738.6" y="31.8" width="593.1" height="433.59999999999997"/></clipPath>
<g clip-path="url(#cb)">
<rect x="734.4" y="247.9" width="9" height="9" fill="#000"/>
<rect x="764.1" y="243.5" width="9" height="9" fill="#000"/>
<rect x="794.1" y="249.7" width="9" height="9" fill="#000"/>
<rect x="823.3" y="241.2" width="9" height="9" fill="#000"/>
<rect x="853.9" y="236.8" width="9" height="9" fill="#000"/>
<rect x="883" y="231.9" width="9" height="9" fill="#000"/>
<rect x="897.7" y="247.9" width="9" height="9" fill="#000"/>
<rect x="912.7" y="245.3" width="9" height="9" fill="#000"/>
<rect x="927.2" y="246.4" width="9" height="9" fill="#000"/>
<rect x="941.7" y="243.5" width="9" height="9" fill="#000"/>
<rect x="956.9" y="247.9" width="9" height="9" fill="#000"/>
<rect x="971.9" y="245.3" width="9" height="9" fill="#000"/>
<rect x="986.5" y="217.8" width="9" height="9" fill="#000"/>
<rect x="1001.7" y="161.8" width="9" height="9" fill="#000"/>
<rect x="1016.1" y="151.2" width="9" height="9" fill="#000"/>
<rect x="1031.2" y="112.8" width="9" height="9" fill="#000"/>
<rect x="1045.6" y="106.6" width="9" height="9" fill="#000"/>
<rect x="1060.7" y="105.8" width="9" height="9" fill="#000"/>
<rect x="1075.7" y="101.7" width="9" height="9" fill="#000"/>
<rect x="1090.5" y="99.3" width="9" height="9" fill="#000"/>
<rect x="1104.9" y="90.6" width="9" height="9" fill="#000"/>
<rect x="1120" y="100.9" width="9" height="9" fill="#000"/>
<rect x="1135.2" y="91.4" width="9" height="9" fill="#000"/>
<rect x="1149.6" y="92.7" width="9" height="9" fill="#000"/>
<rect x="1163.9" y="91.4" width="9" height="9" fill="#000"/>
<rect x="1180" y="92.1" width="9" height="9" fill="#000"/>
<rect x="1208.9" y="96.1" width="9" height="9" fill="#000"/>
<rect x="1239.2" y="102.5" width="9" height="9" fill="#000"/>
<rect x="1269" y="103.1" width="9" height="9" fill="#000"/>
<rect x="1298.7" y="89.8" width="9" height="9" fill="#000"/>
<rect x="1327" y="96.5" width="9" height="9" fill="#000"/>
<path d="M740 368.8L745.2 374L740 379.2L734.8 374Z" fill="#f00" stroke="#f00" stroke-width="1.6" stroke-linejoin="round"/>
<path d="M768.6 380.1L773.8 385.3L768.6 390.5L763.4 385.3Z" fill="#f00" stroke="#f00" stroke-width="1.6" stroke-linejoin="round"/>
<path d="M798.6 358.3L803.8 363.5L798.6 368.7L793.4 363.5Z" fill="#f00" stroke="#f00" stroke-width="1.6" stroke-linejoin="round"/>
<path d="M827.8 365.6L833 370.8L827.8 376L822.6 370.8Z" fill="#f00" stroke="#f00" stroke-width="1.6" stroke-linejoin="round"/>
<path d="M857.5 389.5L862.7 394.7L857.5 399.9L852.3 394.7Z" fill="#f00" stroke="#f00" stroke-width="1.6" stroke-linejoin="round"/>
<path d="M887 387.3L892.2 392.5L887 397.7L881.8 392.5Z" fill="#f00" stroke="#f00" stroke-width="1.6" stroke-linejoin="round"/>
<path d="M902.2 366.5L907.4 371.7L902.2 376.9L897 371.7Z" fill="#f00" stroke="#f00" stroke-width="1.6" stroke-linejoin="round"/>
<path d="M916.7 380.1L921.9 385.3L916.7 390.5L911.5 385.3Z" fill="#f00" stroke="#f00" stroke-width="1.6" stroke-linejoin="round"/>
<path d="M931.7 348.9L936.9 354.1L931.7 359.3L926.5 354.1Z" fill="#f00" stroke="#f00" stroke-width="1.6" stroke-linejoin="round"/>
<path d="M946.7 359.4L951.9 364.6L946.7 369.8L941.5 364.6Z" fill="#f00" stroke="#f00" stroke-width="1.6" stroke-linejoin="round"/>
<path d="M961.6 373.9L966.8 379.1L961.6 384.3L956.4 379.1Z" fill="#f00" stroke="#f00" stroke-width="1.6" stroke-linejoin="round"/>
<path d="M975.7 365.6L980.9 370.8L975.7 376L970.5 370.8Z" fill="#f00" stroke="#f00" stroke-width="1.6" stroke-linejoin="round"/>
<path d="M991.8 386.6L997 391.8L991.8 397L986.6 391.8Z" fill="#f00" stroke="#f00" stroke-width="1.6" stroke-linejoin="round"/>
<path d="M1006.3 402.9L1011.5 408.1L1006.3 413.3L1001.1 408.1Z" fill="#f00" stroke="#f00" stroke-width="1.6" stroke-linejoin="round"/>
<path d="M1020.8 362.6L1026 367.8L1020.8 373L1015.6 367.8Z" fill="#f00" stroke="#f00" stroke-width="1.6" stroke-linejoin="round"/>
<path d="M1035.6 393.7L1040.8 398.9L1035.6 404.1L1030.4 398.9Z" fill="#f00" stroke="#f00" stroke-width="1.6" stroke-linejoin="round"/>
<path d="M1051.3 390.6L1056.5 395.8L1051.3 401L1046.1 395.8Z" fill="#f00" stroke="#f00" stroke-width="1.6" stroke-linejoin="round"/>
<path d="M1065.7 368L1070.9 373.2L1065.7 378.4L1060.5 373.2Z" fill="#f00" stroke="#f00" stroke-width="1.6" stroke-linejoin="round"/>
<path d="M1080.1 381.2L1085.3 386.4L1080.1 391.6L1074.9 386.4Z" fill="#f00" stroke="#f00" stroke-width="1.6" stroke-linejoin="round"/>
<path d="M1095 381.2L1100.2 386.4L1095 391.6L1089.8 386.4Z" fill="#f00" stroke="#f00" stroke-width="1.6" stroke-linejoin="round"/>
<path d="M1110.2 381.2L1115.4 386.4L1110.2 391.6L1105 386.4Z" fill="#f00" stroke="#f00" stroke-width="1.6" stroke-linejoin="round"/>
<path d="M1124.6 376.2L1129.8 381.4L1124.6 386.6L1119.4 381.4Z" fill="#f00" stroke="#f00" stroke-width="1.6" stroke-linejoin="round"/>
<path d="M1139.8 390.6L1145 395.8L1139.8 401L1134.6 395.8Z" fill="#f00" stroke="#f00" stroke-width="1.6" stroke-linejoin="round"/>
<path d="M1154.2 372.8L1159.4 378L1154.2 383.2L1149 378Z" fill="#f00" stroke="#f00" stroke-width="1.6" stroke-linejoin="round"/>
<path d="M1169.6 360.8L1174.8 366L1169.6 371.2L1164.4 366Z" fill="#f00" stroke="#f00" stroke-width="1.6" stroke-linejoin="round"/>
<path d="M1184 375.2L1189.2 380.4L1184 385.6L1178.8 380.4Z" fill="#f00" stroke="#f00" stroke-width="1.6" stroke-linejoin="round"/>
<path d="M1214.3 387.2L1219.5 392.4L1214.3 397.6L1209.1 392.4Z" fill="#f00" stroke="#f00" stroke-width="1.6" stroke-linejoin="round"/>
<path d="M1243.2 364.9L1248.4 370.1L1243.2 375.3L1238 370.1Z" fill="#f00" stroke="#f00" stroke-width="1.6" stroke-linejoin="round"/>
<path d="M1273.2 364.1L1278.4 369.3L1273.2 374.5L1268 369.3Z" fill="#f00" stroke="#f00" stroke-width="1.6" stroke-linejoin="round"/>
<path d="M1303.1 389.6L1308.3 394.8L1303.1 400L1297.9 394.8Z" fill="#f00" stroke="#f00" stroke-width="1.6" stroke-linejoin="round"/>
<path d="M1331 368L1336.2 373.2L1331 378.4L1325.8 373.2Z" fill="#f00" stroke="#f00" stroke-width="1.6" stroke-linejoin="round"/>
</g>
<line x1="738.6" y1="250.2" x2="1331.7" y2="250.2" stroke="#000" stroke-width="2.0" stroke-dasharray="6.5 4.7"/>
<line x1="738.6" y1="379.8" x2="1331.7" y2="379.8" stroke="#000" stroke-width="2.0" stroke-dasharray="6.5 4.7"/>
<rect x="738.6" y="31.8" width="593.1" height="433.6" fill="none" stroke="#000" stroke-width="3.0" stroke-linejoin="miter"/>
<line x1="859.2" y1="465.4" x2="859.2" y2="476.7" stroke="#000" stroke-width="3.0"/>
<text x="859.2" y="503.7" font-size="31" text-anchor="middle" >-5</text>
<line x1="1008.2" y1="465.4" x2="1008.2" y2="476.7" stroke="#000" stroke-width="3.0"/>
<text x="1008.2" y="503.7" font-size="31" text-anchor="middle" >0</text>
<line x1="1157.2" y1="465.4" x2="1157.2" y2="476.7" stroke="#000" stroke-width="3.0"/>
<text x="1157.2" y="503.7" font-size="31" text-anchor="middle" >5</text>
<line x1="1306.2" y1="465.4" x2="1306.2" y2="476.7" stroke="#000" stroke-width="3.0"/>
<text x="1289" y="503.7" font-size="31" text-anchor="start" ><tspan style="fill:none;stroke:none">1</tspan>0</text>
<path transform="translate(1288.96,503.70) scale(0.01514,-0.01514)" d="M763 0H583V1147Q518 1085 412 1023T222 930V1104Q373 1175 486 1276T646 1472H763Z" fill="#000" stroke="#000" stroke-width="29.7"/>
<line x1="784.7" y1="465.4" x2="784.7" y2="471.7" stroke="#000" stroke-width="3.0"/>
<line x1="933.7" y1="465.4" x2="933.7" y2="471.7" stroke="#000" stroke-width="3.0"/>
<line x1="1082.7" y1="465.4" x2="1082.7" y2="471.7" stroke="#000" stroke-width="3.0"/>
<line x1="1231.7" y1="465.4" x2="1231.7" y2="471.7" stroke="#000" stroke-width="3.0"/>
<text x="1236" y="161" font-size="30.5" text-anchor="start" ><tspan style="fill:none;stroke:none">1</tspan><tspan font-size="19" dy="-11">st</tspan></text>
<path transform="translate(1236.00,161.00) scale(0.01489,-0.01489)" d="M763 0H583V1147Q518 1085 412 1023T222 930V1104Q373 1175 486 1276T646 1472H763Z" fill="#000" stroke="#000" stroke-width="30.2"/>
<text x="1275" y="161" font-size="30.5" text-anchor="start" >SV</text>
<text x="1228.6" y="345.5" font-size="30.5" text-anchor="start" >2<tspan font-size="19" dy="-11">nd</tspan></text>
<text x="1274.6" y="345.5" font-size="30.5" text-anchor="start" >SV</text>
<text x="980.37 988.11 994.63 1018.15 1042.26 1051.89 1070.69 1088.14" y="553" font-size="30">time(ps)</text>
<text transform="translate(724.6,249.3) rotate(-90)" x="-66.85 -49.94 -24.98 -6.07 0.25 4.35 14.41 32.82 49.90" y="0" font-size="31">amplitude</text>
<text x="7.2" y="618.6" font-size="44" text-anchor="start" >c</text>
<clipPath id="cc"><rect x="52.4" y="611.0" width="593.4" height="433.29999999999995"/></clipPath>
<g clip-path="url(#cc)">
<polyline points="40.1,972.2 41.7,972.2 43.3,972.2 44.8,972.2 46.4,972.2 47.9,972.2 49.5,972.2 51.1,972.2 52.6,972.2 54.2,972.2 55.7,972.2 57.3,972.2 58.9,972.2 60.4,972.2 62.0,972.2 63.5,972.2 65.1,972.2 66.7,972.2 68.2,972.2 69.8,972.2 71.4,972.2 72.9,972.2 74.5,972.2 76.0,972.2 77.6,972.2 79.2,972.2 80.7,972.2 82.3,972.2 83.8,972.2 85.4,972.2 87.0,972.2 88.5,972.2 90.1,972.2 91.6,972.2 93.2,972.2 94.8,972.2 96.3,972.2 97.9,972.2 99.4,972.2 101.0,972.2 102.6,972.2 104.1,972.2 105.7,972.2 107.3,972.2 108.8,972.2 110.4,972.2 111.9,972.2 113.5,972.2 115.1,972.2 116.6,972.2 118.2,972.2 119.7,972.2 121.3,972.2 122.9,972.2 124.4,972.2 126.0,972.2 127.5,972.2 129.1,972.2 130.7,972.2 132.2,972.2 133.8,972.2 135.4,972.2 136.9,972.2 138.5,972.2 140.0,972.2 141.6,972.2 143.2,972.2 144.7,972.2 146.3,972.2 147.8,972.2 149.4,972.2 151.0,972.2 152.5,972.2 154.1,972.2 155.6,972.2 157.2,972.2 158.8,972.2 160.3,972.2 161.9,972.2 163.5,972.2 165.0,972.2 166.6,972.2 168.1,972.2 169.7,972.2 171.3,972.2 172.8,972.2 174.4,972.2 175.9,972.2 177.5,972.2 179.1,972.2 180.6,972.2 182.2,972.2 183.7,972.2 185.3,972.2 186.9,972.2 188.4,972.2 190.0,972.2 191.6,972.2 193.1,972.2 194.7,972.2 196.2,972.2 197.8,972.2 199.4,972.2 200.9,972.2 202.5,972.2 204.0,972.2 205.6,972.2 207.2,972.2 208.7,972.2 210.3,972.2 211.8,972.2 213.4,972.2 215.0,972.2 216.5,972.1 218.1,972.1 219.7,972.1 221.2,972.1 222.8,972.1 224.3,972.1 225.9,972.1 227.5,972.1 229.0,972.1 230.6,972.0 232.1,972.0 233.7,972.0 235.3,972.0 236.8,971.9 238.4,971.9 239.9,971.8 241.5,971.8 243.1,971.7 244.6,971.7 246.2,971.6 247.7,971.5 249.3,971.4 250.9,971.3 252.4,971.2 254.0,971.1 255.6,970.9 257.1,970.7 258.7,970.5 260.2,970.3 261.8,970.1 263.4,969.8 264.9,969.4 266.5,969.1 268.0,968.6 269.6,968.1 271.2,967.6 272.7,967.0 274.3,966.3 275.8,965.5 277.4,964.6 279.0,963.6 280.5,962.4 282.1,961.1 283.7,959.7 285.2,958.1 286.8,956.2 288.3,954.2 289.9,951.8 291.5,949.3 293.0,946.4 294.6,943.2 296.1,939.6 297.7,935.7 299.3,931.3 300.8,926.6 302.4,921.3 303.9,915.6 305.5,909.5 307.1,902.8 308.6,895.6 310.2,888.0 311.8,879.9 313.3,871.4 314.9,862.4 316.4,853.2 318.0,843.6 319.6,833.9 321.1,824.0 322.7,814.0 324.2,804.1 325.8,794.3 327.4,784.6 328.9,775.3 330.5,766.2 332.0,757.5 333.6,749.2 335.2,741.4 336.7,734.1 338.3,727.2 339.9,720.8 341.4,715.0 343.0,709.6 344.5,704.6 346.1,700.1 347.7,696.0 349.2,692.3 350.8,689.0 352.3,686.0 353.9,683.3 355.5,680.9 357.0,678.7 358.6,676.8 360.1,675.1 361.7,673.6 363.3,672.2 364.8,671.0 366.4,670.0 368.0,669.0 369.5,668.2 371.1,667.5 372.6,666.8 374.2,666.3 375.8,665.7 377.3,665.3 378.9,664.9 380.4,664.6 382.0,664.3 383.6,664.0 385.1,663.7 386.7,663.5 388.2,663.4 389.8,663.2 391.4,663.0 392.9,662.9 394.5,662.8 396.0,662.7 397.6,662.6 399.2,662.6 400.7,662.5 402.3,662.4 403.9,662.4 405.4,662.3 407.0,662.3 408.5,662.3 410.1,662.2 411.7,662.2 413.2,662.2 414.8,662.2 416.3,662.1 417.9,662.1 419.5,662.1 421.0,662.1 422.6,662.1 424.1,662.1 425.7,662.1 427.3,662.1 428.8,662.0 430.4,662.0 432.0,662.0 433.5,662.0 435.1,662.0 436.6,662.0 438.2,662.0 439.8,662.0 441.3,662.0 442.9,662.0 444.4,662.0 446.0,662.0 447.6,662.0 449.1,662.0 450.7,662.0 452.2,662.0 453.8,662.0 455.4,662.0 456.9,662.0 458.5,662.0 460.1,662.0 461.6,662.0 463.2,662.0 464.7,662.0 466.3,662.0 467.9,662.0 469.4,662.0 471.0,662.0 472.5,662.0 474.1,662.0 475.7,662.0 477.2,662.0 478.8,662.0 480.3,662.0 481.9,662.0 483.5,662.0 485.0,662.0 486.6,662.0 488.2,662.0 489.7,662.0 491.3,662.0 492.8,662.0 494.4,662.0 496.0,662.0 497.5,662.0 499.1,662.0 500.6,662.0 502.2,662.0 503.8,662.0 505.3,662.0 506.9,662.0 508.4,662.0 510.0,662.0 511.6,662.0 513.1,662.0 514.7,662.0 516.3,662.0 517.8,662.0 519.4,662.0 520.9,662.0 522.5,662.0 524.1,662.0 525.6,662.0 527.2,662.0 528.7,662.0 530.3,662.0 531.9,662.0 533.4,662.0 535.0,662.0 536.5,662.0 538.1,662.0 539.7,662.0 541.2,662.0 542.8,662.0 544.3,662.0 545.9,662.0 547.5,662.0 549.0,662.0 550.6,662.0 552.2,662.0 553.7,662.0 555.3,662.0 556.8,662.0 558.4,662.0 560.0,662.0 561.5,662.0 563.1,662.0 564.6,662.0 566.2,662.0 567.8,662.0 569.3,662.0 570.9,662.0 572.4,662.0 574.0,662.0 575.6,662.0 577.1,662.0 578.7,662.0 580.3,662.0 581.8,662.0 583.4,662.0 584.9,662.0 586.5,662.0 588.1,662.0 589.6,662.0 591.2,662.0 592.7,662.0 594.3,662.0 595.9,662.0 597.4,662.0 599.0,662.0 600.5,662.0 602.1,662.0 603.7,662.0 605.2,662.0 606.8,662.0 608.4,662.0 609.9,662.0 611.5,662.0 613.0,662.0 614.6,662.0 616.2,662.0 617.7,662.0 619.3,662.0 620.8,662.0 622.4,662.0 624.0,662.0 625.5,662.0 627.1,662.0 628.6,662.0 630.2,662.0 631.8,662.0 633.3,662.0 634.9,662.0 636.5,662.0 638.0,662.0 639.6,662.0 641.1,662.0 642.7,662.0 644.3,662.0 645.8,662.0 647.4,662.0 648.9,662.0 650.5,662.0 652.1,662.0 653.6,662.0 655.2,662.0 656.7,662.0 658.3,662.0 659.9,662.0 661.4,662.0 663.0,662.0" fill="none" stroke="#e00000" stroke-width="3.4" stroke-linejoin="round" />
</g>
<line x1="52.4" y1="973" x2="645.8" y2="973" stroke="#000" stroke-width="2.0" stroke-dasharray="6.5 4.7"/>
<g clip-path="url(#cc)">
<rect x="49.2" y="975.4" width="9.4" height="9.0" rx="3.4" fill="none" stroke="#000" stroke-width="2.8"/>
<rect x="77.2" y="967.3" width="9.4" height="9.0" rx="3.4" fill="none" stroke="#000" stroke-width="2.8"/>
<rect x="107.3" y="978.7" width="9.4" height="9.0" rx="3.4" fill="none" stroke="#000" stroke-width="2.8"/>
<rect x="136.3" y="962" width="9.4" height="9.0" rx="3.4" fill="none" stroke="#000" stroke-width="2.8"/>
<rect x="166.7" y="953" width="9.4" height="9.0" rx="3.4" fill="none" stroke="#000" stroke-width="2.8"/>
<rect x="195.1" y="943.4" width="9.4" height="9.0" rx="3.4" fill="none" stroke="#000" stroke-width="2.8"/>
<rect x="210.5" y="975.8" width="9.4" height="9.0" rx="3.4" fill="none" stroke="#000" stroke-width="2.8"/>
<rect x="225.7" y="968.4" width="9.4" height="9.0" rx="3.4" fill="none" stroke="#000" stroke-width="2.8"/>
<rect x="240.2" y="973.1" width="9.4" height="9.0" rx="3.4" fill="none" stroke="#000" stroke-width="2.8"/>
<rect x="255.4" y="966.9" width="9.4" height="9.0" rx="3.4" fill="none" stroke="#000" stroke-width="2.8"/>
<rect x="269.3" y="976.5" width="9.4" height="9.0" rx="3.4" fill="none" stroke="#000" stroke-width="2.8"/>
<rect x="284.4" y="968.7" width="9.4" height="9.0" rx="3.4" fill="none" stroke="#000" stroke-width="2.8"/>
<rect x="299.3" y="911.7" width="9.4" height="9.0" rx="3.4" fill="none" stroke="#000" stroke-width="2.8"/>
<rect x="314.3" y="793.4" width="9.4" height="9.0" rx="3.4" fill="none" stroke="#000" stroke-width="2.8"/>
<rect x="328.9" y="771.6" width="9.4" height="9.0" rx="3.4" fill="none" stroke="#000" stroke-width="2.8"/>
<rect x="343.8" y="691.8" width="9.4" height="9.0" rx="3.4" fill="none" stroke="#000" stroke-width="2.8"/>
<rect x="358.8" y="678.2" width="9.4" height="9.0" rx="3.4" fill="none" stroke="#000" stroke-width="2.8"/>
<rect x="373.4" y="677.4" width="9.4" height="9.0" rx="3.4" fill="none" stroke="#000" stroke-width="2.8"/>
<rect x="388.3" y="668.2" width="9.4" height="9.0" rx="3.4" fill="none" stroke="#000" stroke-width="2.8"/>
<rect x="403.5" y="663" width="9.4" height="9.0" rx="3.4" fill="none" stroke="#000" stroke-width="2.8"/>
<rect x="417.9" y="644.7" width="9.4" height="9.0" rx="3.4" fill="none" stroke="#000" stroke-width="2.8"/>
<rect x="432.7" y="666.3" width="9.4" height="9.0" rx="3.4" fill="none" stroke="#000" stroke-width="2.8"/>
<rect x="447.4" y="646.9" width="9.4" height="9.0" rx="3.4" fill="none" stroke="#000" stroke-width="2.8"/>
<rect x="462.6" y="648.3" width="9.4" height="9.0" rx="3.4" fill="none" stroke="#000" stroke-width="2.8"/>
<rect x="476.9" y="645.3" width="9.4" height="9.0" rx="3.4" fill="none" stroke="#000" stroke-width="2.8"/>
<rect x="491.6" y="646.9" width="9.4" height="9.0" rx="3.4" fill="none" stroke="#000" stroke-width="2.8"/>
<rect x="521.9" y="655.6" width="9.4" height="9.0" rx="3.4" fill="none" stroke="#000" stroke-width="2.8"/>
<rect x="551.1" y="667.6" width="9.4" height="9.0" rx="3.4" fill="none" stroke="#000" stroke-width="2.8"/>
<rect x="580.9" y="670" width="9.4" height="9.0" rx="3.4" fill="none" stroke="#000" stroke-width="2.8"/>
<rect x="610.1" y="642.2" width="9.4" height="9.0" rx="3.4" fill="none" stroke="#000" stroke-width="2.8"/>
<rect x="638.3" y="658.9" width="9.4" height="9.0" rx="3.4" fill="none" stroke="#000" stroke-width="2.8"/>
</g>
<rect x="52.4" y="611" width="593.4" height="433.3" fill="none" stroke="#000" stroke-width="3.0" stroke-linejoin="miter"/>
<line x1="173.6" y1="1044.3" x2="173.6" y2="1055.6" stroke="#000" stroke-width="3.0"/>
<text x="173.6" y="1083" font-size="31" text-anchor="middle" >-5</text>
<line x1="321.9" y1="1044.3" x2="321.9" y2="1055.6" stroke="#000" stroke-width="3.0"/>
<text x="321.9" y="1083" font-size="31" text-anchor="middle" >0</text>
<line x1="470.2" y1="1044.3" x2="470.2" y2="1055.6" stroke="#000" stroke-width="3.0"/>
<text x="470.2" y="1083" font-size="31" text-anchor="middle" >5</text>
<line x1="618.5" y1="1044.3" x2="618.5" y2="1055.6" stroke="#000" stroke-width="3.0"/>
<text x="601.3" y="1083" font-size="31" text-anchor="start" ><tspan style="fill:none;stroke:none">1</tspan>0</text>
<path transform="translate(601.26,1083.00) scale(0.01514,-0.01514)" d="M763 0H583V1147Q518 1085 412 1023T222 930V1104Q373 1175 486 1276T646 1472H763Z" fill="#000" stroke="#000" stroke-width="29.7"/>
<line x1="99.4" y1="1044.3" x2="99.4" y2="1050.6" stroke="#000" stroke-width="3.0"/>
<line x1="247.7" y1="1044.3" x2="247.7" y2="1050.6" stroke="#000" stroke-width="3.0"/>
<line x1="396" y1="1044.3" x2="396" y2="1050.6" stroke="#000" stroke-width="3.0"/>
<line x1="544.3" y1="1044.3" x2="544.3" y2="1050.6" stroke="#000" stroke-width="3.0"/>
<text x="292.37 300.61 307.13 331.05 354.26 363.89 382.29 400.14" y="1129" font-size="30">time(ps)</text>
<text transform="translate(34.9,825.2) rotate(-90)" x="-66.85 -49.94 -24.98 -6.07 0.25 4.35 14.41 32.82 49.90" y="0" font-size="31">amplitude</text>
<text x="695" y="618.6" font-size="44" text-anchor="start" >d</text>
<clipPath id="cd"><rect x="737.0" y="611.0" width="593.3" height="433.5"/></clipPath>
<line x1="737" y1="829.3" x2="1330.3" y2="829.3" stroke="#000" stroke-width="2.0" stroke-dasharray="6.5 4.7"/>
<g clip-path="url(#cd)">
<path d="M735 780V796M730 780h10M730 796h10M736 777V796M731 777h10M731 796h10M737 778V796M732 778h10M732 796h10M738 781V799M733 781h10M733 799h10M739 783V801M734 783h10M734 801h10M741 778V797M736 778h10M736 797h10M742 774V794M737 774h10M737 794h10M743 782V802M738 782h10M738 802h10M744 780V801M739 780h10M739 801h10M745 780V801M740 780h10M740 801h10M746 778V801M741 778h10M741 801h10M747 785V806M742 785h10M742 806h10M748 781V799M743 781h10M743 799h10M749 782V802M744 782h10M744 802h10M750 777V796M745 777h10M745 796h10M752 781V799M747 781h10M747 799h10M753 781V799M748 781h10M748 799h10M754 783V801M749 783h10M749 801h10M755 783V803M750 783h10M750 803h10M756 782V799M751 782h10M751 799h10M757 787V807M752 787h10M752 807h10M758 781V799M753 781h10M753 799h10M759 784V800M754 784h10M754 800h10M760 785V802M755 785h10M755 802h10M761 779V801M756 779h10M756 801h10M763 785V805M758 785h10M758 805h10M764 787V803M759 787h10M759 803h10M765 783V803M760 783h10M760 803h10M766 788V809M761 788h10M761 809h10M767 786V803M762 786h10M762 803h10M768 787V806M763 787h10M763 806h10M769 786V804M764 786h10M764 804h10M770 785V805M765 785h10M765 805h10M771 788V810M766 788h10M766 810h10M772 792V810M767 792h10M767 810h10M774 794V811M769 794h10M769 811h10M775 798V815M770 798h10M770 815h10M776 789V810M771 789h10M771 810h10M777 795V812M772 795h10M772 812h10M778 793V812M773 793h10M773 812h10M779 800V822M774 800h10M774 822h10M780 796V818M775 796h10M775 818h10M781 797V818M776 797h10M776 818h10M782 799V815M777 799h10M777 815h10M783 804V823M778 804h10M778 823h10M785 803V821M780 803h10M780 821h10M786 806V825M781 806h10M781 825h10M787 804V821M782 804h10M782 821h10M788 815V832M783 815h10M783 832h10M789 814V837M784 814h10M784 837h10M790 819V841M785 819h10M785 841h10M791 827V844M786 827h10M786 844h10M792 825V847M787 825h10M787 847h10M793 833V849M788 833h10M788 849h10M794 840V858M789 840h10M789 858h10M796 843V866M791 843h10M791 866h10M797 848V871M792 848h10M792 871h10M798 857V876M793 857h10M793 876h10M799 860V881M794 860h10M794 881h10M800 869V888M795 869h10M795 888h10M801 873V895M796 873h10M796 895h10M802 878V896M797 878h10M797 896h10M803 888V905M798 888h10M798 905h10M804 885V902M799 885h10M799 902h10M805 893V913M800 893h10M800 913h10M807 904V924M802 904h10M802 924h10M808 904V926M803 904h10M803 926h10M809 910V927M804 910h10M804 927h10M810 921V943M805 921h10M805 943h10M811 925V947M806 925h10M806 947h10M812 927V948M807 927h10M807 948h10M813 940V957M808 940h10M808 957h10M814 942V959M809 942h10M809 959h10M815 948V964M810 948h10M810 964h10M816 956V975M811 956h10M811 975h10M818 960V982M813 960h10M813 982h10M819 967V984M814 967h10M814 984h10M820 973V992M815 973h10M815 992h10M821 978V994M816 978h10M816 994h10M822 983V1004M817 983h10M817 1004h10M823 990V1006M818 990h10M818 1006h10M824 994V1015M819 994h10M819 1015h10M825 995V1016M820 995h10M820 1016h10M826 998V1017M821 998h10M821 1017h10M827 999V1022M822 999h10M822 1022h10M829 1006V1027M824 1006h10M824 1027h10M830 1012V1036M825 1012h10M825 1036h10M831 1012V1038M826 1012h10M826 1038h10M832 1010V1036M827 1010h10M827 1036h10M833 1015V1042M828 1015h10M828 1042h10M834 1009V1040M829 1009h10M829 1040h10M835 1015V1047M830 1015h10M830 1047h10M836 1013V1045M831 1013h10M831 1045h10M837 1017V1046M832 1017h10M832 1046h10M838 1014V1044M833 1014h10M833 1044h10M840 1011V1033M835 1011h10M835 1033h10M841 1004V1031M836 1004h10M836 1031h10M842 998V1017M837 998h10M837 1017h10M843 989V1013M838 989h10M838 1013h10M844 982V1005M839 982h10M839 1005h10M845 980V999M840 980h10M840 999h10M846 957V979M841 957h10M841 979h10M847 942V965M842 942h10M842 965h10M848 931V948M843 931h10M843 948h10M849 924V945M844 924h10M844 945h10M851 911V927M846 911h10M846 927h10M852 902V922M847 902h10M847 922h10M853 898V914M848 898h10M848 914h10M854 883V903M849 883h10M849 903h10M855 882V898M850 882h10M850 898h10M856 868V887M851 868h10M851 887h10M857 850V872M852 850h10M852 872h10M858 839V857M853 839h10M853 857h10M859 822V845M854 822h10M854 845h10M860 813V832M855 813h10M855 832h10M862 808V825M857 808h10M857 825h10M863 796V819M858 796h10M858 819h10M864 789V806M859 789h10M859 806h10M865 778V798M860 778h10M860 798h10M866 766V789M861 766h10M861 789h10M867 760V783M862 760h10M862 783h10M868 749V769M863 749h10M863 769h10M869 747V764M864 747h10M864 764h10M870 743V762M865 743h10M865 762h10M871 737V755M866 737h10M866 755h10M873 727V745M868 727h10M868 745h10M874 722V740M869 722h10M869 740h10M875 722V740M870 722h10M870 740h10M876 720V736M871 720h10M871 736h10M877 706V727M872 706h10M872 727h10M878 708V725M873 708h10M873 725h10M879 705V726M874 705h10M874 726h10M880 706V726M875 706h10M875 726h10M881 698V720M876 698h10M876 720h10M882 700V722M877 700h10M877 722h10M884 697V719M879 697h10M879 719h10M885 701V726M880 701h10M880 726h10M886 695V720M881 695h10M881 720h10M887 691V719M882 691h10M882 719h10M888 690V717M883 690h10M883 717h10M889 692V722M884 692h10M884 722h10M890 690V722M885 690h10M885 722h10M891 685V717M886 685h10M886 717h10M892 688V720M887 688h10M887 720h10M893 683V717M888 683h10M888 717h10M895 685V717M890 685h10M890 717h10M896 681V718M891 681h10M891 718h10M897 681V718M892 681h10M892 718h10M898 682V720M893 682h10M893 720h10M899 685V717M894 685h10M894 717h10M900 689V720M895 689h10M895 720h10M901 689V723M896 689h10M896 723h10M902 688V721M897 688h10M897 721h10M903 690V717M898 690h10M898 717h10M904 696V722M899 696h10M899 722h10M906 691V717M901 691h10M901 717h10M907 694V719M902 694h10M902 719h10M908 706V727M903 706h10M903 727h10M909 711V731M904 711h10M904 731h10M910 716V737M905 716h10M905 737h10M911 719V738M906 719h10M906 738h10M912 721V740M907 721h10M907 740h10M913 728V746M908 728h10M908 746h10M914 735V755M909 735h10M909 755h10M915 736V758M910 736h10M910 758h10M917 742V763M912 742h10M912 763h10M918 746V767M913 746h10M913 767h10M919 753V772M914 753h10M914 772h10M920 764V781M915 764h10M915 781h10M921 769V785M916 769h10M916 785h10M922 770V787M917 770h10M917 787h10M923 773V796M918 773h10M918 796h10M924 781V802M919 781h10M919 802h10M925 790V810M920 790h10M920 810h10M926 792V813M921 792h10M921 813h10M928 801V822M923 801h10M923 822h10M929 803V824M924 803h10M924 824h10M930 814V831M925 814h10M925 831h10M931 823V844M926 823h10M926 844h10M932 831V852M927 831h10M927 852h10M933 834V852M928 834h10M928 852h10M934 841V859M929 841h10M929 859h10M935 852V870M930 852h10M930 870h10M936 855V875M931 855h10M931 875h10M937 860V882M932 860h10M932 882h10M939 870V891M934 870h10M934 891h10M940 878V895M935 878h10M935 895h10M941 886V903M936 886h10M936 903h10M942 891V909M937 891h10M937 909h10M943 894V911M938 894h10M938 911h10M944 901V918M939 901h10M939 918h10M945 904V926M940 904h10M940 926h10M946 908V927M941 908h10M941 927h10M947 913V935M942 913h10M942 935h10M948 922V943M943 922h10M943 943h10M950 917V943M945 917h10M945 943h10M951 927V952M946 927h10M946 952h10M952 929V951M947 929h10M947 951h10M953 927V955M948 927h10M948 955h10M954 932V957M949 932h10M949 957h10M955 932V960M950 932h10M950 960h10M956 935V963M951 935h10M951 963h10M957 931V961M952 931h10M952 961h10M958 932V962M953 932h10M953 962h10M959 932V962M954 932h10M954 962h10M961 938V967M956 938h10M956 967h10M962 933V967M957 933h10M957 967h10M963 930V959M958 930h10M958 959h10M964 931V959M959 931h10M959 959h10M965 929V957M960 929h10M960 957h10M966 931V956M961 931h10M961 956h10M967 930V954M962 930h10M962 954h10M968 933V957M963 933h10M963 957h10M969 920V944M964 920h10M964 944h10M970 923V946M965 923h10M965 946h10M972 919V939M967 919h10M967 939h10M973 910V933M968 910h10M968 933h10M974 907V930M969 907h10M969 930h10M975 904V923M970 904h10M970 923h10M976 901V919M971 901h10M971 919h10M977 897V918M972 897h10M972 918h10M978 888V907M973 888h10M973 907h10M979 890V912M974 890h10M974 912h10M980 885V902M975 885h10M975 902h10M981 886V906M976 886h10M976 906h10M983 882V900M978 882h10M978 900h10M984 882V899M979 882h10M979 899h10M985 875V897M980 875h10M980 897h10M986 876V893M981 876h10M981 893h10M987 867V889M982 867h10M982 889h10M988 861V883M983 861h10M983 883h10M989 860V883M984 860h10M984 883h10M990 860V876M985 860h10M985 876h10M991 859V877M986 859h10M986 877h10M992 844V862M987 844h10M987 862h10M994 844V864M989 844h10M989 864h10M995 843V865M990 843h10M990 865h10M996 831V856M991 831h10M991 856h10M997 834V852M992 834h10M992 852h10M998 838V858M993 838h10M993 858h10M999 830V856M994 830h10M994 856h10M1000 821V845M995 821h10M995 845h10M1001 830V851M996 830h10M996 851h10M1002 827V850M997 827h10M997 850h10M1002 826V846M997 826h10M997 846h10M1003 820V848M998 820h10M998 848h10M1004 822V843M999 822h10M999 843h10M1004 813V841M999 813h10M999 841h10M1005 815V841M1000 815h10M1000 841h10M1006 818V849M1001 818h10M1001 849h10M1007 820V841M1002 820h10M1002 841h10M1008 828V848M1003 828h10M1003 848h10M1008 812V844M1003 812h10M1003 844h10M1009 805V832M1004 805h10M1004 832h10M1010 813V843M1005 813h10M1005 843h10M1010 817V845M1005 817h10M1005 845h10M1011 804V860M1006 804h10M1006 860h10M1012 814V847M1007 814h10M1007 847h10M1013 810V841M1008 810h10M1008 841h10M1014 828V847M1009 828h10M1009 847h10M1014 809V843M1009 809h10M1009 843h10M1015 823V842M1010 823h10M1010 842h10M1016 809V845M1011 809h10M1011 845h10M1016 812V830M1011 812h10M1011 830h10M1017 818V853M1012 818h10M1012 853h10M1018 796V828M1013 796h10M1013 828h10M1019 811V830M1014 811h10M1014 830h10M1020 809V845M1015 809h10M1015 845h10M1020 805V837M1015 805h10M1015 837h10M1021 816V837M1016 816h10M1016 837h10M1022 801V840M1017 801h10M1017 840h10M1022 801V834M1017 801h10M1017 834h10M1023 818V847M1018 818h10M1018 847h10M1024 796V837M1019 796h10M1019 837h10M1025 804V827M1020 804h10M1020 827h10M1026 798V820M1021 798h10M1021 820h10M1026 790V830M1021 790h10M1021 830h10M1027 806V828M1022 806h10M1022 828h10M1028 797V834M1023 797h10M1023 834h10M1028 799V822M1023 799h10M1023 822h10M1029 787V824M1024 787h10M1024 824h10M1030 799V827M1025 799h10M1025 827h10M1031 781V814M1026 781h10M1026 814h10M1032 789V821M1027 789h10M1027 821h10M1032 791V818M1027 791h10M1027 818h10M1033 785V816M1028 785h10M1028 816h10M1034 790V823M1029 790h10M1029 823h10M1034 791V812M1029 791h10M1029 812h10M1035 772V830M1030 772h10M1030 830h10M1036 798V836M1031 798h10M1031 836h10M1037 800V823M1032 800h10M1032 823h10M1038 803V826M1033 803h10M1033 826h10M1038 795V823M1033 795h10M1033 823h10M1039 797V834M1034 797h10M1034 834h10M1040 800V831M1035 800h10M1035 831h10M1040 807V832M1035 807h10M1035 832h10M1041 809V846M1036 809h10M1036 846h10M1042 802V825M1037 802h10M1037 825h10M1043 800V835M1038 800h10M1038 835h10M1044 799V835M1039 799h10M1039 835h10M1044 787V807M1039 787h10M1039 807h10M1045 795V827M1040 795h10M1040 827h10M1046 805V837M1041 805h10M1041 837h10M1046 805V846M1041 805h10M1041 846h10M1047 806V831M1042 806h10M1042 831h10M1048 815V844M1043 815h10M1043 844h10M1049 811V852M1044 811h10M1044 852h10M1050 811V832M1045 811h10M1045 832h10M1050 813V853M1045 813h10M1045 853h10M1051 821V848M1046 821h10M1046 848h10M1052 814V840M1047 814h10M1047 840h10M1052 796V838M1047 796h10M1047 838h10M1053 817V845M1048 817h10M1048 845h10M1054 808V832M1049 808h10M1049 832h10M1055 806V829M1050 806h10M1050 829h10M1056 802V837M1051 802h10M1051 837h10M1056 798V831M1051 798h10M1051 831h10M1057 811V834M1052 811h10M1052 834h10M1058 805V834M1053 805h10M1053 834h10M1058 809V834M1053 809h10M1053 834h10M1059 799V837M1054 799h10M1054 837h10M1060 797V824M1055 797h10M1055 824h10M1061 800V833M1056 800h10M1056 833h10M1062 805V845M1057 805h10M1057 845h10M1062 808V832M1057 808h10M1057 832h10M1063 822V862M1058 822h10M1058 862h10M1064 810V840M1059 810h10M1059 840h10M1064 807V841M1059 807h10M1059 841h10M1065 807V862M1060 807h10M1060 862h10M1066 814V849M1061 814h10M1061 849h10M1067 809V845M1062 809h10M1062 845h10M1068 810V842M1063 810h10M1063 842h10M1068 810V849M1063 810h10M1063 849h10M1069 817V847M1064 817h10M1064 847h10M1070 822V840M1065 822h10M1065 840h10M1070 805V845M1065 805h10M1065 845h10M1071 813V845M1066 813h10M1066 845h10M1072 815V847M1067 815h10M1067 847h10M1073 797V864M1068 797h10M1068 864h10M1074 784V831M1069 784h10M1069 831h10M1074 808V833M1069 808h10M1069 833h10M1075 811V831M1070 811h10M1070 831h10M1076 808V841M1071 808h10M1071 841h10M1076 808V846M1071 808h10M1071 846h10M1077 815V849M1072 815h10M1072 849h10M1078 811V849M1073 811h10M1073 849h10M1079 813V839M1074 813h10M1074 839h10M1080 818V836M1075 818h10M1075 836h10M1080 824V851M1075 824h10M1075 851h10M1081 812V834M1076 812h10M1076 834h10M1082 816V841M1077 816h10M1077 841h10M1082 824V847M1077 824h10M1077 847h10M1083 817V839M1078 817h10M1078 839h10M1084 795V830M1079 795h10M1079 830h10M1085 810V843M1080 810h10M1080 843h10M1086 802V840M1081 802h10M1081 840h10M1086 801V842M1081 801h10M1081 842h10M1087 815V839M1082 815h10M1082 839h10M1088 802V843M1083 802h10M1083 843h10M1088 799V835M1083 799h10M1083 835h10M1089 807V839M1084 807h10M1084 839h10M1090 799V840M1085 799h10M1085 840h10M1091 802V832M1086 802h10M1086 832h10M1092 808V827M1087 808h10M1087 827h10M1092 806V827M1087 806h10M1087 827h10M1093 800V825M1088 800h10M1088 825h10M1094 794V829M1089 794h10M1089 829h10M1094 799V830M1089 799h10M1089 830h10M1095 791V826M1090 791h10M1090 826h10M1096 796V815M1091 796h10M1091 815h10M1097 806V831M1092 806h10M1092 831h10M1098 790V823M1093 790h10M1093 823h10M1098 788V824M1093 788h10M1093 824h10M1099 786V819M1094 786h10M1094 819h10M1100 786V816M1095 786h10M1095 816h10M1100 781V816M1095 781h10M1095 816h10M1101 771V821M1096 771h10M1096 821h10M1102 763V815M1097 763h10M1097 815h10M1103 765V805M1098 765h10M1098 805h10M1104 753V819M1099 753h10M1099 819h10M1104 771V818M1099 771h10M1099 818h10M1105 747V803M1100 747h10M1100 803h10M1106 751V811M1101 751h10M1101 811h10M1106 760V829M1101 760h10M1101 829h10M1107 756V804M1102 756h10M1102 804h10M1108 757V819M1103 757h10M1103 819h10M1109 764V829M1104 764h10M1104 829h10M1110 767V813M1105 767h10M1105 813h10M1110 780V818M1105 780h10M1105 818h10M1111 768V807M1106 768h10M1106 807h10M1112 781V821M1107 781h10M1107 821h10M1112 788V815M1107 788h10M1107 815h10M1113 800V823M1108 800h10M1108 823h10M1114 796V834M1109 796h10M1109 834h10M1115 785V828M1110 785h10M1110 828h10M1116 803V844M1111 803h10M1111 844h10M1116 798V825M1111 798h10M1111 825h10M1117 789V819M1112 789h10M1112 819h10M1118 784V822M1113 784h10M1113 822h10M1118 806V848M1113 806h10M1113 848h10M1119 805V831M1114 805h10M1114 831h10M1120 794V835M1115 794h10M1115 835h10M1121 796V831M1116 796h10M1116 831h10M1122 801V822M1117 801h10M1117 822h10M1122 811V840M1117 811h10M1117 840h10M1123 807V825M1118 807h10M1118 825h10M1124 813V841M1119 813h10M1119 841h10M1124 799V830M1119 799h10M1119 830h10M1125 783V820M1120 783h10M1120 820h10M1126 808V834M1121 808h10M1121 834h10M1127 797V830M1122 797h10M1122 830h10M1128 798V832M1123 798h10M1123 832h10M1128 811V841M1123 811h10M1123 841h10M1129 799V832M1124 799h10M1124 832h10M1130 810V839M1125 810h10M1125 839h10M1130 801V834M1125 801h10M1125 834h10M1131 798V827M1126 798h10M1126 827h10M1132 801V841M1127 801h10M1127 841h10M1133 804V825M1128 804h10M1128 825h10M1134 807V845M1129 807h10M1129 845h10M1134 807V843M1129 807h10M1129 843h10M1135 811V830M1130 811h10M1130 830h10M1136 807V842M1131 807h10M1131 842h10M1136 812V839M1131 812h10M1131 839h10M1137 807V837M1132 807h10M1132 837h10M1138 815V845M1133 815h10M1133 845h10M1139 807V842M1134 807h10M1134 842h10M1140 816V846M1135 816h10M1135 846h10M1140 806V839M1135 806h10M1135 839h10M1141 818V841M1136 818h10M1136 841h10M1142 823V842M1137 823h10M1137 842h10M1142 809V843M1137 809h10M1137 843h10M1143 808V850M1138 808h10M1138 850h10M1144 819V839M1139 819h10M1139 839h10M1145 817V857M1140 817h10M1140 857h10M1146 815V842M1141 815h10M1141 842h10M1146 819V853M1141 819h10M1141 853h10M1147 830V855M1142 830h10M1142 855h10M1148 818V853M1143 818h10M1143 853h10M1148 810V838M1143 810h10M1143 838h10M1149 816V853M1144 816h10M1144 853h10M1150 828V852M1145 828h10M1145 852h10M1151 819V845M1146 819h10M1146 845h10M1152 824V857M1147 824h10M1147 857h10M1152 828V848M1147 828h10M1147 848h10M1153 817V858M1148 817h10M1148 858h10M1154 817V850M1149 817h10M1149 850h10M1154 812V853M1149 812h10M1149 853h10M1155 805V863M1150 805h10M1150 863h10M1156 819V854M1151 819h10M1151 854h10M1157 827V850M1152 827h10M1152 850h10M1158 828V848M1153 828h10M1153 848h10M1158 819V848M1153 819h10M1153 848h10M1159 821V850M1154 821h10M1154 850h10M1160 821V852M1155 821h10M1155 852h10M1160 809V839M1155 809h10M1155 839h10M1161 817V840M1156 817h10M1156 840h10M1162 810V844M1157 810h10M1157 844h10M1163 818V842M1158 818h10M1158 842h10M1164 816V841M1159 816h10M1159 841h10M1164 809V846M1159 809h10M1159 846h10M1165 805V840M1160 805h10M1160 840h10M1166 813V848M1161 813h10M1161 848h10M1166 807V847M1161 807h10M1161 847h10M1167 780V840M1162 780h10M1162 840h10M1168 812V836M1163 812h10M1163 836h10M1169 796V837M1164 796h10M1164 837h10M1170 818V848M1165 818h10M1165 848h10M1170 804V836M1165 804h10M1165 836h10M1171 808V833M1166 808h10M1166 833h10M1172 810V837M1167 810h10M1167 837h10M1172 807V838M1167 807h10M1167 838h10M1173 814V833M1168 814h10M1168 833h10M1174 817V852M1169 817h10M1169 852h10M1175 814V841M1170 814h10M1170 841h10M1176 815V850M1171 815h10M1171 850h10M1176 818V853M1171 818h10M1171 853h10M1177 808V841M1172 808h10M1172 841h10M1178 832V852M1173 832h10M1173 852h10M1178 821V853M1173 821h10M1173 853h10M1179 827V853M1174 827h10M1174 853h10M1180 813V848M1175 813h10M1175 848h10M1181 824V859M1176 824h10M1176 859h10M1182 825V855M1177 825h10M1177 855h10M1182 817V852M1177 817h10M1177 852h10M1183 841V863M1178 841h10M1178 863h10M1184 823V861M1179 823h10M1179 861h10M1184 816V858M1179 816h10M1179 858h10M1185 813V877M1180 813h10M1180 877h10M1186 824V862M1181 824h10M1181 862h10M1187 830V857M1182 830h10M1182 857h10M1188 819V860M1183 819h10M1183 860h10M1188 827V858M1183 827h10M1183 858h10M1189 831V854M1184 831h10M1184 854h10M1190 810V841M1185 810h10M1185 841h10M1190 810V848M1185 810h10M1185 848h10M1191 808V843M1186 808h10M1186 843h10M1192 812V850M1187 812h10M1187 850h10M1193 829V848M1188 829h10M1188 848h10M1194 813V854M1189 813h10M1189 854h10M1194 803V843M1189 803h10M1189 843h10M1195 813V843M1190 813h10M1190 843h10M1196 817V857M1191 817h10M1191 857h10M1196 817V839M1191 817h10M1191 839h10M1197 818V845M1192 818h10M1192 845h10M1198 824V846M1193 824h10M1193 846h10M1199 806V840M1194 806h10M1194 840h10M1200 819V859M1195 819h10M1195 859h10M1200 817V858M1195 817h10M1195 858h10M1201 830V850M1196 830h10M1196 850h10M1202 813V849M1197 813h10M1197 849h10M1202 817V848M1197 817h10M1197 848h10M1203 822V845M1198 822h10M1198 845h10M1204 819V858M1199 819h10M1199 858h10M1205 822V852M1200 822h10M1200 852h10M1206 827V846M1201 827h10M1201 846h10M1206 833V860M1201 833h10M1201 860h10M1207 825V860M1202 825h10M1202 860h10M1208 810V849M1203 810h10M1203 849h10M1208 818V840M1203 818h10M1203 840h10M1209 826V858M1204 826h10M1204 858h10M1210 819V839M1205 819h10M1205 839h10M1211 819V858M1206 819h10M1206 858h10M1212 830V848M1207 830h10M1207 848h10M1212 805V846M1207 805h10M1207 846h10M1213 811V843M1208 811h10M1208 843h10M1214 793V857M1209 793h10M1209 857h10M1214 805V840M1209 805h10M1209 840h10M1215 807V837M1210 807h10M1210 837h10M1216 811V839M1211 811h10M1211 839h10M1217 821V844M1212 821h10M1212 844h10M1218 812V837M1213 812h10M1213 837h10M1218 816V837M1213 816h10M1213 837h10M1219 813V837M1214 813h10M1214 837h10M1220 803V837M1215 803h10M1215 837h10M1220 821V853M1215 821h10M1215 853h10M1221 798V830M1216 798h10M1216 830h10M1222 809V840M1217 809h10M1217 840h10M1223 811V852M1218 811h10M1218 852h10M1224 801V839M1219 801h10M1219 839h10M1224 820V844M1219 820h10M1219 844h10M1225 820V851M1220 820h10M1220 851h10M1226 802V843M1221 802h10M1221 843h10M1226 817V841M1221 817h10M1221 841h10M1227 804V839M1222 804h10M1222 839h10M1228 814V848M1223 814h10M1223 848h10M1229 812V846M1224 812h10M1224 846h10M1230 815V846M1225 815h10M1225 846h10M1230 809V881M1225 809h10M1225 881h10M1231 820V847M1226 820h10M1226 847h10M1232 798V878M1227 798h10M1227 878h10M1232 820V852M1227 820h10M1227 852h10M1233 813V839M1228 813h10M1228 839h10M1234 819V853M1229 819h10M1229 853h10M1235 821V856M1230 821h10M1230 856h10M1236 808V848M1231 808h10M1231 848h10M1236 829V863M1231 829h10M1231 863h10M1237 824V855M1232 824h10M1232 855h10M1238 829V856M1233 829h10M1233 856h10M1238 822V850M1233 822h10M1233 850h10M1239 830V855M1234 830h10M1234 855h10M1240 829V861M1235 829h10M1235 861h10M1241 823V861M1236 823h10M1236 861h10M1242 829V861M1237 829h10M1237 861h10M1242 821V843M1237 821h10M1237 843h10M1243 844V863M1238 844h10M1238 863h10M1244 819V858M1239 819h10M1239 858h10M1244 819V845M1239 819h10M1239 845h10M1245 822V856M1240 822h10M1240 856h10M1246 819V860M1241 819h10M1241 860h10M1247 827V868M1242 827h10M1242 868h10M1248 822V854M1243 822h10M1243 854h10M1248 825V864M1243 825h10M1243 864h10M1249 822V850M1244 822h10M1244 850h10M1250 834V874M1245 834h10M1245 874h10M1250 826V860M1245 826h10M1245 860h10M1251 840V860M1246 840h10M1246 860h10M1252 812V850M1247 812h10M1247 850h10M1253 804V880M1248 804h10M1248 880h10M1254 807V849M1249 807h10M1249 849h10M1254 812V859M1249 812h10M1249 859h10M1255 817V853M1250 817h10M1250 853h10M1256 809V830M1251 809h10M1251 830h10M1256 805V836M1251 805h10M1251 836h10M1257 806V833M1252 806h10M1252 833h10M1258 797V836M1253 797h10M1253 836h10M1259 808V833M1254 808h10M1254 833h10M1260 801V836M1255 801h10M1255 836h10M1260 795V836M1255 795h10M1255 836h10M1261 815V834M1256 815h10M1256 834h10M1262 809V844M1257 809h10M1257 844h10M1262 806V826M1257 806h10M1257 826h10M1263 791V850M1258 791h10M1258 850h10M1264 804V843M1259 804h10M1259 843h10M1265 811V833M1260 811h10M1260 833h10M1266 800V839M1261 800h10M1261 839h10M1266 814V842M1261 814h10M1261 842h10M1267 815V840M1262 815h10M1262 840h10M1268 806V847M1263 806h10M1263 847h10M1268 807V834M1263 807h10M1263 834h10M1269 822V845M1264 822h10M1264 845h10M1270 818V844M1265 818h10M1265 844h10M1271 798V838M1266 798h10M1266 838h10M1272 798V840M1267 798h10M1267 840h10M1272 812V841M1267 812h10M1267 841h10M1273 800V830M1268 800h10M1268 830h10M1274 806V838M1269 806h10M1269 838h10M1274 801V839M1269 801h10M1269 839h10M1275 793V877M1270 793h10M1270 877h10M1276 800V837M1271 800h10M1271 837h10M1277 790V831M1272 790h10M1272 831h10M1278 803V831M1273 803h10M1273 831h10M1278 795V823M1273 795h10M1273 823h10M1279 814V855M1274 814h10M1274 855h10M1280 817V844M1275 817h10M1275 844h10M1280 816V843M1275 816h10M1275 843h10M1281 805V843M1276 805h10M1276 843h10M1282 814V843M1277 814h10M1277 843h10M1283 814V847M1278 814h10M1278 847h10M1284 817V842M1279 817h10M1279 842h10M1284 812V847M1279 812h10M1279 847h10M1285 806V832M1280 806h10M1280 832h10M1286 809V846M1281 809h10M1281 846h10M1286 807V837M1281 807h10M1281 837h10M1287 799V839M1282 799h10M1282 839h10M1288 804V835M1283 804h10M1283 835h10M1289 810V849M1284 810h10M1284 849h10M1290 819V848M1285 819h10M1285 848h10M1290 802V836M1285 802h10M1285 836h10M1291 826V851M1286 826h10M1286 851h10M1292 821V853M1287 821h10M1287 853h10M1292 809V843M1287 809h10M1287 843h10M1293 814V837M1288 814h10M1288 837h10M1294 813V844M1289 813h10M1289 844h10M1295 815V855M1290 815h10M1290 855h10M1296 815V838M1291 815h10M1291 838h10M1296 808V837M1291 808h10M1291 837h10M1297 812V850M1292 812h10M1292 850h10M1298 803V831M1293 803h10M1293 831h10M1298 821V840M1293 821h10M1293 840h10M1299 821V852M1294 821h10M1294 852h10M1300 775V835M1295 775h10M1295 835h10M1301 814V854M1296 814h10M1296 854h10M1302 815V849M1297 815h10M1297 849h10M1302 815V852M1297 815h10M1297 852h10M1303 816V843M1298 816h10M1298 843h10M1304 804V844M1299 804h10M1299 844h10M1304 808V846M1299 808h10M1299 846h10M1305 818V838M1300 818h10M1300 838h10M1306 818V852M1301 818h10M1301 852h10M1307 817V857M1302 817h10M1302 857h10M1308 813V847M1303 813h10M1303 847h10M1308 802V843M1303 802h10M1303 843h10M1309 810V835M1304 810h10M1304 835h10M1310 810V842M1305 810h10M1305 842h10M1310 819V850M1305 819h10M1305 850h10M1311 816V841M1306 816h10M1306 841h10M1312 807V844M1307 807h10M1307 844h10M1313 807V835M1308 807h10M1308 835h10M1314 814V847M1309 814h10M1309 847h10M1314 808V845M1309 808h10M1309 845h10M1315 806V842M1310 806h10M1310 842h10M1316 802V847M1311 802h10M1311 847h10M1316 824V843M1311 824h10M1311 843h10M1317 803V841M1312 803h10M1312 841h10M1318 815V849M1313 815h10M1313 849h10M1319 801V857M1314 801h10M1314 857h10M1320 811V832M1315 811h10M1315 832h10M1320 811V841M1315 811h10M1315 841h10M1321 809V831M1316 809h10M1316 831h10M1322 795V836M1317 795h10M1317 836h10M1322 807V830M1317 807h10M1317 830h10M1323 795V835M1318 795h10M1318 835h10M1324 806V841M1319 806h10M1319 841h10M1325 805V837M1320 805h10M1320 837h10M1326 808V842M1321 808h10M1321 842h10M1326 809V844M1321 809h10M1321 844h10M1327 791V815M1322 791h10M1322 815h10M1328 809V839M1323 809h10M1323 839h10M1328 801V821M1323 801h10M1323 821h10M1329 813V833M1324 813h10M1324 833h10M1330 796V837M1325 796h10M1325 837h10M1331 803V842M1326 803h10M1326 842h10M1332 812V848M1327 812h10M1327 848h10M1332 801V822M1327 801h10M1327 822h10M1333 807V840M1328 807h10M1328 840h10" fill="none" stroke="#000" stroke-width="2" shape-rendering="crispEdges"/>
<polyline points="735.0,788.2 736.1,786.3 737.2,787.2 738.3,790.0 739.4,792.4 740.5,787.7 741.6,784.2 742.7,791.7 743.8,790.2 744.9,790.6 746.0,789.6 747.1,795.4 748.2,790.4 749.3,792.1 750.4,786.7 751.5,790.3 752.6,790.3 753.7,792.1 754.8,793.2 755.9,790.5 757.0,796.9 758.1,790.0 759.2,791.6 760.3,793.5 761.4,789.9 762.5,794.6 763.6,794.9 764.7,792.8 765.8,798.6 766.9,794.7 768.0,796.6 769.1,795.2 770.2,794.9 771.3,798.9 772.4,801.1 773.5,802.2 774.6,806.4 775.7,799.5 776.8,803.4 777.9,802.4 779.0,810.9 780.1,806.9 781.2,807.8 782.3,807.4 783.4,813.7 784.5,812.0 785.6,815.5 786.7,812.1 787.8,823.2 788.9,825.5 790.0,830.3 791.1,835.8 792.2,836.2 793.3,840.8 794.4,848.7 795.5,854.5 796.6,859.4 797.7,866.4 798.8,870.6 799.9,878.7 801.0,884.2 802.1,886.8 803.2,896.6 804.3,893.6 805.4,902.8 806.5,913.9 807.6,914.8 808.7,918.2 809.8,931.8 810.9,935.9 812.0,937.6 813.1,948.7 814.2,950.5 815.3,956.1 816.4,965.6 817.5,971.0 818.6,975.2 819.7,982.5 820.8,986.1 821.9,993.6 823.0,998.0 824.1,1004.5 825.2,1005.7 826.3,1007.4 827.4,1010.7 828.5,1016.6 829.6,1023.9 830.7,1024.7 831.8,1023.0 832.9,1028.5 834.0,1024.8 835.1,1031.4 836.2,1028.7 837.3,1031.7 838.4,1028.9 839.5,1022.0 840.6,1017.8 841.7,1007.8 842.8,1001.1 843.9,993.6 845.0,989.6 846.1,968.1 847.2,953.6 848.3,939.4 849.4,934.6 850.5,918.6 851.6,911.9 852.7,906.0 853.8,892.9 854.9,889.7 856.0,877.3 857.1,860.7 858.2,847.9 859.3,833.8 860.4,822.5 861.5,816.7 862.6,807.3 863.7,797.2 864.8,788.1 865.9,777.6 867.0,771.6 868.1,759.1 869.2,755.4 870.3,752.4 871.4,746.1 872.5,736.1 873.6,731.3 874.7,730.9 875.8,727.9 876.9,716.4 878.0,716.5 879.1,715.8 880.2,716.2 881.3,709.2 882.4,711.3 883.5,707.6 884.6,713.3 885.7,707.4 886.8,705.1 887.9,703.9 889.0,706.9 890.1,705.6 891.2,700.9 892.3,704.0 893.4,699.9 894.5,701.2 895.6,699.7 896.7,699.6 897.8,701.2 898.9,700.5 900.0,704.7 901.1,706.0 902.2,704.3 903.3,703.2 904.4,709.2 905.5,703.6 906.6,706.4 907.7,716.8 908.8,721.0 909.9,726.5 911.0,728.4 912.1,730.4 913.2,737.2 914.3,745.1 915.4,747.1 916.5,752.7 917.6,756.4 918.7,762.3 919.8,772.6 920.9,777.0 922.0,778.4 923.1,784.3 924.2,791.5 925.3,800.5 926.4,802.6 927.5,811.8 928.6,813.6 929.7,822.5 930.8,833.4 931.9,841.3 933.0,842.8 934.1,850.5 935.2,861.1 936.3,864.8 937.4,871.1 938.5,880.4 939.6,886.2 940.7,894.9 941.8,900.2 942.9,902.7 944.0,909.6 945.1,915.2 946.2,917.6 947.3,923.7 948.4,932.7 949.5,929.8 950.6,939.5 951.7,940.3 952.8,941.3 953.9,944.4 955.0,945.6 956.1,948.7 957.2,945.7 958.3,946.8 959.4,947.2 960.5,952.6 961.6,949.9 962.7,944.5 963.8,945.0 964.9,942.8 966.0,943.3 967.1,942.3 968.2,945.3 969.3,931.7 970.4,934.9 971.5,929.0 972.6,921.6 973.7,918.7 974.8,913.5 975.9,910.2 977.0,907.8 978.1,897.1 979.2,900.6 980.3,893.5 981.4,895.8 982.5,890.8 983.6,890.5 984.7,886.1 985.8,884.3 986.9,878.1 988.0,872.1 989.1,871.9 990.2,868.1 991.3,868.1 992.4,852.9 993.5,854.0 994.6,854.2 995.7,843.6 996.8,843.4 997.9,848.1 999.0,843.2 1000.0,833.0 1000.8,840.6 1001.5,838.7 1002.2,836.3 1003.0,833.9 1003.8,832.6 1004.5,827.3 1005.2,828.2 1006.0,833.2 1006.8,830.4 1007.5,838.0 1008.2,828.0 1009.0,818.2 1009.8,828.0 1010.5,831.1 1011.2,831.7 1012.0,830.2 1012.8,825.5 1013.5,837.4 1014.2,825.8 1015.0,832.8 1015.8,826.8 1016.5,821.0 1017.2,835.1 1018.0,811.7 1018.8,820.4 1019.5,827.0 1020.2,821.3 1021.0,826.9 1021.8,820.7 1022.5,817.5 1023.2,832.1 1024.0,816.7 1024.8,815.9 1025.5,809.2 1026.2,810.0 1027.0,817.2 1027.8,815.4 1028.5,810.8 1029.2,805.5 1030.0,812.7 1030.8,797.4 1031.5,804.8 1032.2,804.7 1033.0,800.7 1033.8,806.5 1034.5,801.5 1035.2,800.9 1036.0,817.0 1036.8,811.2 1037.5,814.8 1038.2,808.8 1039.0,815.4 1039.8,815.5 1040.5,819.3 1041.2,827.5 1042.0,813.2 1042.8,817.4 1043.5,816.8 1044.2,797.2 1045.0,811.1 1045.8,820.6 1046.5,825.3 1047.2,818.9 1048.0,829.8 1048.8,831.3 1049.5,821.5 1050.2,832.8 1051.0,834.7 1051.8,826.7 1052.5,817.3 1053.2,831.2 1054.0,820.3 1054.8,817.8 1055.5,819.4 1056.2,814.1 1057.0,822.5 1057.8,819.5 1058.5,821.3 1059.2,817.7 1060.0,810.7 1060.8,816.4 1061.5,825.0 1062.2,819.7 1063.0,842.0 1063.8,824.8 1064.5,823.8 1065.2,834.4 1066.0,831.8 1066.8,827.1 1067.5,825.7 1068.2,829.5 1069.0,831.8 1069.8,831.2 1070.5,824.6 1071.2,828.8 1072.0,831.1 1072.8,830.5 1073.5,807.2 1074.2,820.4 1075.0,821.1 1075.8,824.5 1076.5,827.2 1077.2,831.8 1078.0,830.3 1078.8,826.0 1079.5,827.0 1080.2,837.5 1081.0,823.2 1081.8,828.5 1082.5,835.6 1083.2,827.7 1084.0,812.7 1084.8,826.3 1085.5,820.8 1086.2,821.4 1087.0,827.3 1087.8,822.7 1088.5,817.2 1089.2,823.1 1090.0,819.5 1090.8,816.8 1091.5,817.4 1092.2,816.6 1093.0,812.7 1093.8,811.8 1094.5,814.5 1095.2,808.5 1096.0,805.4 1096.8,818.6 1097.5,806.9 1098.2,805.9 1099.0,802.7 1099.8,800.9 1100.5,798.2 1101.2,795.9 1102.0,788.7 1102.8,785.0 1103.5,785.7 1104.2,794.6 1105.0,775.0 1105.8,781.2 1106.5,794.7 1107.2,780.0 1108.0,788.2 1108.8,796.5 1109.5,790.2 1110.2,799.0 1111.0,787.5 1111.8,800.5 1112.5,801.8 1113.2,811.3 1114.0,815.3 1114.8,806.7 1115.5,823.1 1116.2,811.5 1117.0,804.0 1117.8,803.0 1118.5,827.3 1119.2,817.9 1120.0,814.6 1120.8,813.8 1121.5,811.4 1122.2,825.6 1123.0,816.5 1123.8,827.1 1124.5,814.7 1125.2,801.4 1126.0,820.6 1126.8,813.6 1127.5,814.9 1128.2,826.2 1129.0,815.6 1129.8,824.3 1130.5,817.2 1131.2,812.8 1132.0,820.6 1132.8,814.3 1133.5,825.9 1134.2,825.0 1135.0,820.5 1135.8,824.8 1136.5,825.6 1137.2,821.7 1138.0,830.0 1138.8,824.4 1139.5,830.7 1140.2,822.4 1141.0,829.8 1141.8,832.6 1142.5,826.2 1143.2,829.1 1144.0,828.9 1144.8,836.9 1145.5,828.5 1146.2,835.7 1147.0,842.4 1147.8,835.5 1148.5,823.8 1149.2,834.3 1150.0,840.0 1150.8,832.2 1151.5,840.8 1152.2,838.2 1153.0,837.3 1153.8,833.5 1154.5,832.3 1155.2,834.0 1156.0,836.1 1156.8,838.9 1157.5,838.2 1158.2,833.6 1159.0,835.4 1159.8,836.8 1160.5,824.0 1161.2,828.3 1162.0,827.2 1162.8,829.7 1163.5,828.2 1164.2,827.2 1165.0,822.4 1165.8,830.6 1166.5,827.3 1167.2,810.0 1168.0,824.1 1168.8,816.6 1169.5,833.2 1170.2,820.0 1171.0,820.4 1171.8,823.5 1172.5,822.3 1173.2,823.9 1174.0,834.4 1174.8,827.6 1175.5,832.5 1176.2,835.6 1177.0,824.4 1177.8,841.7 1178.5,837.1 1179.2,840.0 1180.0,830.3 1180.8,841.4 1181.5,839.8 1182.2,834.7 1183.0,852.0 1183.8,841.9 1184.5,837.0 1185.2,845.0 1186.0,843.0 1186.8,843.6 1187.5,839.5 1188.2,842.3 1189.0,842.8 1189.8,825.6 1190.5,829.1 1191.2,825.5 1192.0,831.0 1192.8,838.6 1193.5,833.6 1194.2,823.4 1195.0,828.2 1195.8,836.6 1196.5,827.9 1197.2,831.3 1198.0,834.7 1198.8,822.9 1199.5,839.4 1200.2,837.7 1201.0,839.7 1201.8,831.0 1202.5,832.5 1203.2,833.6 1204.0,838.6 1204.8,837.1 1205.5,836.9 1206.2,846.2 1207.0,842.5 1207.8,829.4 1208.5,828.9 1209.2,842.2 1210.0,829.1 1210.8,838.5 1211.5,839.1 1212.2,825.6 1213.0,826.8 1213.8,825.0 1214.5,822.5 1215.2,821.7 1216.0,825.0 1216.8,832.6 1217.5,824.8 1218.2,826.4 1219.0,825.0 1219.8,819.7 1220.5,836.9 1221.2,814.0 1222.0,824.2 1222.8,831.5 1223.5,819.8 1224.2,831.7 1225.0,835.5 1225.8,822.8 1226.5,829.2 1227.2,821.4 1228.0,831.3 1228.8,829.0 1229.5,830.2 1230.2,845.0 1231.0,833.1 1231.8,838.0 1232.5,835.9 1233.2,826.0 1234.0,836.0 1234.8,838.6 1235.5,828.2 1236.2,846.1 1237.0,839.7 1237.8,842.6 1238.5,836.1 1239.2,842.8 1240.0,845.0 1240.8,841.9 1241.5,844.8 1242.2,832.0 1243.0,853.2 1243.8,838.4 1244.5,832.0 1245.2,839.2 1246.0,839.6 1246.8,847.4 1247.5,838.1 1248.2,844.5 1249.0,836.2 1249.8,854.1 1250.5,842.9 1251.2,850.1 1252.0,830.8 1252.8,842.0 1253.5,828.0 1254.2,835.6 1255.0,834.6 1255.8,819.5 1256.5,820.9 1257.2,819.6 1258.0,816.6 1258.8,820.5 1259.5,818.5 1260.2,815.3 1261.0,824.3 1261.8,826.9 1262.5,815.7 1263.2,820.3 1264.0,823.6 1264.8,822.1 1265.5,819.1 1266.2,827.9 1267.0,827.8 1267.8,826.4 1268.5,820.6 1269.2,833.2 1270.0,831.3 1270.8,818.0 1271.5,819.3 1272.2,826.8 1273.0,814.8 1273.8,821.9 1274.5,819.8 1275.2,835.0 1276.0,818.5 1276.8,810.7 1277.5,817.2 1278.2,808.8 1279.0,834.8 1279.8,830.5 1280.5,829.2 1281.2,824.0 1282.0,828.6 1282.8,830.6 1283.5,829.6 1284.2,829.5 1285.0,819.0 1285.8,827.6 1286.5,822.3 1287.2,819.0 1288.0,819.7 1288.8,829.5 1289.5,833.7 1290.2,819.4 1291.0,838.4 1291.8,836.9 1292.5,826.0 1293.2,825.7 1294.0,828.2 1294.8,834.6 1295.5,826.6 1296.2,822.4 1297.0,831.3 1297.8,817.0 1298.5,830.3 1299.2,836.5 1300.0,805.0 1300.8,834.2 1301.5,832.4 1302.2,833.6 1303.0,829.9 1303.8,823.8 1304.5,827.1 1305.2,827.7 1306.0,835.4 1306.8,837.3 1307.5,829.8 1308.2,822.6 1309.0,822.5 1309.8,825.6 1310.5,834.8 1311.2,828.3 1312.0,825.7 1312.8,821.1 1313.5,830.7 1314.2,826.7 1315.0,824.1 1315.8,824.5 1316.5,833.4 1317.2,821.7 1318.0,832.2 1318.8,828.9 1319.5,821.4 1320.2,826.0 1321.0,819.7 1321.8,815.4 1322.5,818.8 1323.2,815.1 1324.0,823.8 1324.8,821.1 1325.5,824.7 1326.2,826.5 1327.0,803.0 1327.8,823.8 1328.5,811.2 1329.2,823.0 1330.0,816.8 1330.8,822.6 1331.5,830.2 1332.2,811.7 1333.0,823.1" fill="none" stroke="#000" stroke-width="2.6" stroke-linejoin="round" />
<polyline points="737.0,776.0 738.0,775.1 739.0,774.2 740.0,773.3 741.0,772.4 742.0,771.5 743.0,770.7 744.0,769.8 745.0,769.0 746.0,768.2 747.0,767.5 748.0,766.8 749.0,766.0 750.0,765.4 751.0,764.7 752.0,764.0 753.0,763.3 754.0,762.6 755.0,761.9 756.0,761.2 757.0,760.6 758.0,760.0 759.0,759.4 760.0,759.0 761.0,758.6 762.0,758.2 763.0,757.8 764.0,757.6 765.0,757.5 766.0,757.6 767.0,757.7 768.0,758.0 769.0,758.4 770.0,758.8 771.0,759.3 772.0,760.1 773.0,761.2 774.0,762.5 775.0,764.0 776.0,765.7 777.0,767.3 778.0,769.0 779.0,770.7 780.0,772.6 781.0,774.6 782.0,776.7 783.0,778.9 784.0,781.2 785.0,783.6 786.0,786.1 787.0,788.8 788.0,791.7 789.0,794.7 790.0,798.0 791.0,801.6 792.0,805.5 793.0,809.8 794.0,814.2 795.0,818.9 796.0,824.1 797.0,829.5 798.0,834.9 799.0,840.0 800.0,844.8 801.0,849.6 802.0,854.9 803.0,860.8 804.0,867.3 805.0,874.3 806.0,881.5 807.0,888.8 808.0,896.0 809.0,903.1 810.0,910.2 811.0,917.4 812.0,924.6 813.0,932.0 814.0,939.5 815.0,947.3 816.0,955.3 817.0,964.5 818.0,974.1 819.0,983.3 820.0,991.0 821.0,996.6 822.0,1001.3 823.0,1005.5 824.0,1009.1 825.0,1012.3 826.0,1015.0 827.0,1017.5 828.0,1020.1 829.0,1022.4 830.0,1024.3 831.0,1025.5 832.0,1026.0 833.0,1025.7 834.0,1024.8 835.0,1023.5 836.0,1021.9 837.0,1020.0 838.0,1017.1 839.0,1012.8 840.0,1007.3 841.0,1001.1 842.0,994.7 843.0,987.1 844.0,978.1 845.0,968.2 846.0,958.0 847.0,948.0 848.0,938.6 849.0,930.2 850.0,922.4 851.0,914.9 852.0,907.5 853.0,899.9 854.0,891.8 855.0,883.0 856.0,872.8 857.0,861.3 858.0,849.4 859.0,838.0 860.0,828.0 861.0,819.4 862.0,811.4 863.0,803.9 864.0,796.7 865.0,789.5 866.0,781.9 867.0,774.0 868.0,766.0 869.0,758.2 870.0,750.9 871.0,744.4 872.0,739.0 873.0,734.5 874.0,730.4 875.0,726.6 876.0,723.2 877.0,720.1 878.0,717.3 879.0,714.8 880.0,712.5 881.0,710.4 882.0,708.5 883.0,706.6 884.0,704.8 885.0,703.0 886.0,701.0 887.0,699.1 888.0,697.3 889.0,696.0 890.0,695.0 891.0,694.1 892.0,693.2 893.0,692.3 894.0,691.6 895.0,691.0 896.0,690.6 897.0,690.3 898.0,690.2 899.0,690.3 900.0,690.7 901.0,691.3 902.0,692.1 903.0,693.0 904.0,694.1 905.0,695.3 906.0,696.5 907.0,697.7 908.0,699.1 909.0,700.8 910.0,702.8 911.0,705.1 912.0,707.6 913.0,710.4 914.0,713.3 915.0,716.5 916.0,719.8 917.0,723.4 918.0,727.7 919.0,732.6 920.0,738.0 921.0,743.5 922.0,749.2 923.0,754.8 924.0,760.4 925.0,766.2 926.0,772.1 927.0,778.2 928.0,784.4 929.0,790.7 930.0,797.3 931.0,804.2 932.0,811.1 933.0,818.0 934.0,824.7 935.0,831.1 936.0,837.3 937.0,843.4 938.0,849.3 939.0,855.3 940.0,861.3 941.0,867.5 942.0,873.8 943.0,880.1 944.0,886.1 945.0,891.7 946.0,896.8 947.0,901.8 948.0,906.8 949.0,911.6 950.0,915.8 951.0,919.3 952.0,921.8 953.0,923.1 954.0,924.1 955.0,925.0 956.0,925.8 957.0,926.4 958.0,926.8 959.0,927.0 960.0,926.8 961.0,926.1 962.0,924.9 963.0,923.4 964.0,921.6 965.0,919.8 966.0,918.0 967.0,916.1 968.0,914.0 969.0,911.6 970.0,909.1 971.0,906.5 972.0,904.0 973.0,901.5 974.0,899.2 975.0,896.9 976.0,894.7 977.0,892.5 978.0,890.3 979.0,888.2 980.0,886.2 981.0,884.2 982.0,882.3 983.0,880.5 984.0,878.8 985.0,877.1 986.0,875.5 987.0,873.9 988.0,872.3 989.0,870.8 990.0,869.3 991.0,867.8 992.0,866.4 993.0,864.9 994.0,863.5 995.0,862.1 996.0,860.7 997.0,859.3 998.0,858.0 999.0,856.6 1000.0,855.2 1001.0,853.8 1002.0,852.4 1003.0,850.8 1004.0,849.2 1005.0,847.6 1006.0,845.9 1007.0,844.3 1008.0,842.7 1009.0,841.2 1010.0,839.9 1011.0,838.7 1012.0,837.6 1013.0,836.9 1014.0,836.2 1015.0,835.6 1016.0,835.0 1017.0,834.5 1018.0,834.1 1019.0,833.6 1020.0,833.2 1021.0,832.8 1022.0,832.4 1023.0,832.0 1024.0,831.7 1025.0,831.3 1026.0,830.8 1027.0,830.4 1028.0,829.9 1029.0,829.5 1030.0,829.0 1031.0,828.5 1032.0,828.1 1033.0,827.6 1034.0,827.2 1035.0,826.7 1036.0,826.2 1037.0,825.8 1038.0,825.3 1039.0,824.8 1040.0,824.4 1041.0,823.9 1042.0,823.4 1043.0,822.9 1044.0,822.3 1045.0,821.7 1046.0,821.1 1047.0,820.4 1048.0,819.8 1049.0,819.2 1050.0,818.7 1051.0,818.2 1052.0,817.8 1053.0,817.4 1054.0,817.1 1055.0,817.0 1056.0,816.9 1057.0,816.8 1058.0,816.8 1059.0,816.7 1060.0,816.6 1061.0,816.6 1062.0,816.6 1063.0,816.5 1064.0,816.5 1065.0,816.5 1066.0,816.6 1067.0,816.9 1068.0,817.4 1069.0,818.0 1070.0,818.8 1071.0,819.6 1072.0,820.4 1073.0,821.2 1074.0,822.0 1075.0,822.8 1076.0,823.4 1077.0,824.1 1078.0,824.8 1079.0,825.5 1080.0,826.3 1081.0,827.0 1082.0,827.8 1083.0,828.6 1084.0,829.4 1085.0,830.1 1086.0,830.8 1087.0,831.5 1088.0,832.1 1089.0,832.6 1090.0,833.1 1091.0,833.5 1092.0,833.8 1093.0,833.9 1094.0,834.0 1095.0,833.9 1096.0,833.8 1097.0,833.6 1098.0,833.2 1099.0,832.9 1100.0,832.5 1101.0,832.1 1102.0,831.7 1103.0,831.3 1104.0,831.0 1105.0,830.7 1106.0,830.3 1107.0,829.8 1108.0,829.4 1109.0,829.0 1110.0,828.5 1111.0,828.1 1112.0,827.8 1113.0,827.4 1114.0,827.2 1115.0,827.1 1116.0,827.0 1117.0,827.0 1118.0,827.1 1119.0,827.2 1120.0,827.3 1121.0,827.4 1122.0,827.6 1123.0,827.7 1124.0,827.9 1125.0,828.1 1126.0,828.3 1127.0,828.4 1128.0,828.6 1129.0,828.7 1130.0,828.8 1131.0,828.9 1132.0,829.0 1133.0,829.0 1134.0,829.0 1135.0,828.8 1136.0,828.7 1137.0,828.4 1138.0,828.1 1139.0,827.8 1140.0,827.5 1141.0,827.1 1142.0,826.7 1143.0,826.3 1144.0,825.9 1145.0,825.5 1146.0,825.2 1147.0,824.9 1148.0,824.6 1149.0,824.3 1150.0,824.2 1151.0,824.0 1152.0,824.0 1153.0,824.1 1154.0,824.2 1155.0,824.5 1156.0,824.8 1157.0,825.2 1158.0,825.7 1159.0,826.2 1160.0,826.8 1161.0,827.4 1162.0,828.1 1163.0,828.7 1164.0,829.4 1165.0,830.1 1166.0,830.7 1167.0,831.3 1168.0,831.9 1169.0,832.5 1170.0,833.0 1171.0,833.5 1172.0,834.0 1173.0,834.6 1174.0,835.1 1175.0,835.7 1176.0,836.3 1177.0,836.9 1178.0,837.5 1179.0,838.1 1180.0,838.6 1181.0,839.2 1182.0,839.7 1183.0,840.1 1184.0,840.5 1185.0,840.8 1186.0,841.1 1187.0,841.3 1188.0,841.5 1189.0,841.5 1190.0,841.5 1191.0,841.4 1192.0,841.3 1193.0,841.2 1194.0,841.1 1195.0,840.9 1196.0,840.7 1197.0,840.4 1198.0,840.2 1199.0,839.9 1200.0,839.6 1201.0,839.3 1202.0,839.0 1203.0,838.7 1204.0,838.4 1205.0,838.1 1206.0,837.8 1207.0,837.5 1208.0,837.1 1209.0,836.8 1210.0,836.5 1211.0,836.3 1212.0,836.0 1213.0,835.7 1214.0,835.4 1215.0,835.1 1216.0,834.8 1217.0,834.5 1218.0,834.2 1219.0,833.8 1220.0,833.5 1221.0,833.1 1222.0,832.8 1223.0,832.4 1224.0,832.0 1225.0,831.7 1226.0,831.4 1227.0,831.0 1228.0,830.7 1229.0,830.4 1230.0,830.1 1231.0,829.8 1232.0,829.5 1233.0,829.3 1234.0,829.1 1235.0,828.9 1236.0,828.7 1237.0,828.6 1238.0,828.5 1239.0,828.4 1240.0,828.3 1241.0,828.3 1242.0,828.2 1243.0,828.2 1244.0,828.1 1245.0,828.1 1246.0,828.0 1247.0,828.0 1248.0,827.9 1249.0,827.9 1250.0,827.9 1251.0,827.8 1252.0,827.8 1253.0,827.7 1254.0,827.7 1255.0,827.7 1256.0,827.7 1257.0,827.6 1258.0,827.6 1259.0,827.6 1260.0,827.6 1261.0,827.5 1262.0,827.5 1263.0,827.5 1264.0,827.5 1265.0,827.5 1266.0,827.5 1267.0,827.5 1268.0,827.5 1269.0,827.5 1270.0,827.6 1271.0,827.7 1272.0,827.7 1273.0,827.8 1274.0,827.9 1275.0,828.1 1276.0,828.2 1277.0,828.3 1278.0,828.5 1279.0,828.6 1280.0,828.8 1281.0,828.9 1282.0,829.0 1283.0,829.2 1284.0,829.3 1285.0,829.5 1286.0,829.6 1287.0,829.7 1288.0,829.9 1289.0,830.0 1290.0,830.1 1291.0,830.1 1292.0,830.2 1293.0,830.3 1294.0,830.3 1295.0,830.3 1296.0,830.3 1297.0,830.3 1298.0,830.3 1299.0,830.2 1300.0,830.2 1301.0,830.1 1302.0,830.1 1303.0,830.0 1304.0,830.0 1305.0,829.9 1306.0,829.9 1307.0,829.8 1308.0,829.7 1309.0,829.6 1310.0,829.6 1311.0,829.5 1312.0,829.4 1313.0,829.4 1314.0,829.3 1315.0,829.3 1316.0,829.2 1317.0,829.2 1318.0,829.1 1319.0,829.1 1320.0,829.0 1321.0,829.0 1322.0,829.0 1323.0,829.0 1324.0,829.0 1325.0,829.0 1326.0,829.0 1327.0,829.0 1328.0,829.0 1329.0,829.0 1330.0,829.0 1331.0,829.0" fill="none" stroke="#e00000" stroke-width="1.6" stroke-linejoin="round" />
</g>
<rect x="737" y="611" width="593.3" height="433.5" fill="none" stroke="#000" stroke-width="3.0" stroke-linejoin="miter"/>
<line x1="845.2" y1="1044.5" x2="845.2" y2="1055.8" stroke="#000" stroke-width="3.0"/>
<text x="845.2" y="1084.5" font-size="31" text-anchor="middle" >2</text>
<line x1="1061" y1="1044.5" x2="1061" y2="1055.8" stroke="#000" stroke-width="3.0"/>
<text x="1061" y="1084.5" font-size="31" text-anchor="middle" >4</text>
<line x1="1276.8" y1="1044.5" x2="1276.8" y2="1055.8" stroke="#000" stroke-width="3.0"/>
<text x="1276.8" y="1084.5" font-size="31" text-anchor="middle" >6</text>
<line x1="737.3" y1="1044.5" x2="737.3" y2="1050.8" stroke="#000" stroke-width="3.0"/>
<line x1="953.1" y1="1044.5" x2="953.1" y2="1050.8" stroke="#000" stroke-width="3.0"/>
<line x1="1168.9" y1="1044.5" x2="1168.9" y2="1050.8" stroke="#000" stroke-width="3.0"/>
<rect x="951.8" y="632.6" width="368" height="74.6" fill="#fff" stroke="#000" stroke-width="1.6"/>
<line x1="954.5" y1="651.4" x2="1024.2" y2="651.4" stroke="#000" stroke-width="1.6"/>
<line x1="954.5" y1="689.7" x2="1024.2" y2="689.7" stroke="#e00000" stroke-width="1.6"/>
<text x="1033.5" y="662" font-size="30.5" text-anchor="start" ><tspan style="fill:none;stroke:none">1</tspan> <tspan font-size="26">μ</tspan>s</text>
<path transform="translate(1033.50,662.00) scale(0.01489,-0.01489)" d="M763 0H583V1147Q518 1085 412 1023T222 930V1104Q373 1175 486 1276T646 1472H763Z" fill="#000" stroke="#000" stroke-width="30.2"/>
<text x="1032.5" y="699" font-size="31" text-anchor="start" letter-spacing="0.2">Water heating signal</text>
<text x="996.60" y="1129" font-size="30" font-style="italic">q</text>
<text x="1019.00 1029.66" y="1129" font-size="30">(Å</text>
<text x="1049.08" y="1119" font-size="19">-</text>
<path transform="translate(1055.20,1119.00) scale(0.00928,-0.00928)" d="M763 0H583V1147Q518 1085 412 1023T222 930V1104Q373 1175 486 1276T646 1472H763Z" fill="#000" stroke="#000" stroke-width="48.5"/>
<text x="1068.00" y="1129" font-size="30">)</text>
<text transform="translate(723.6,829.3) rotate(-90)" font-size="31" text-anchor="middle"><tspan font-style="italic">q</tspan><tspan style="fill:none;stroke:none">Δ</tspan>S(<tspan font-style="italic">q</tspan>)</text>
<path d="M723 842.3L703.1 850.3L723 858.4" fill="none" stroke="#000" stroke-width="1.9" stroke-linejoin="miter"/>
<path d="M723 842.3V858.4" stroke="#000" stroke-width="0.9"/></svg>
</body></html>
